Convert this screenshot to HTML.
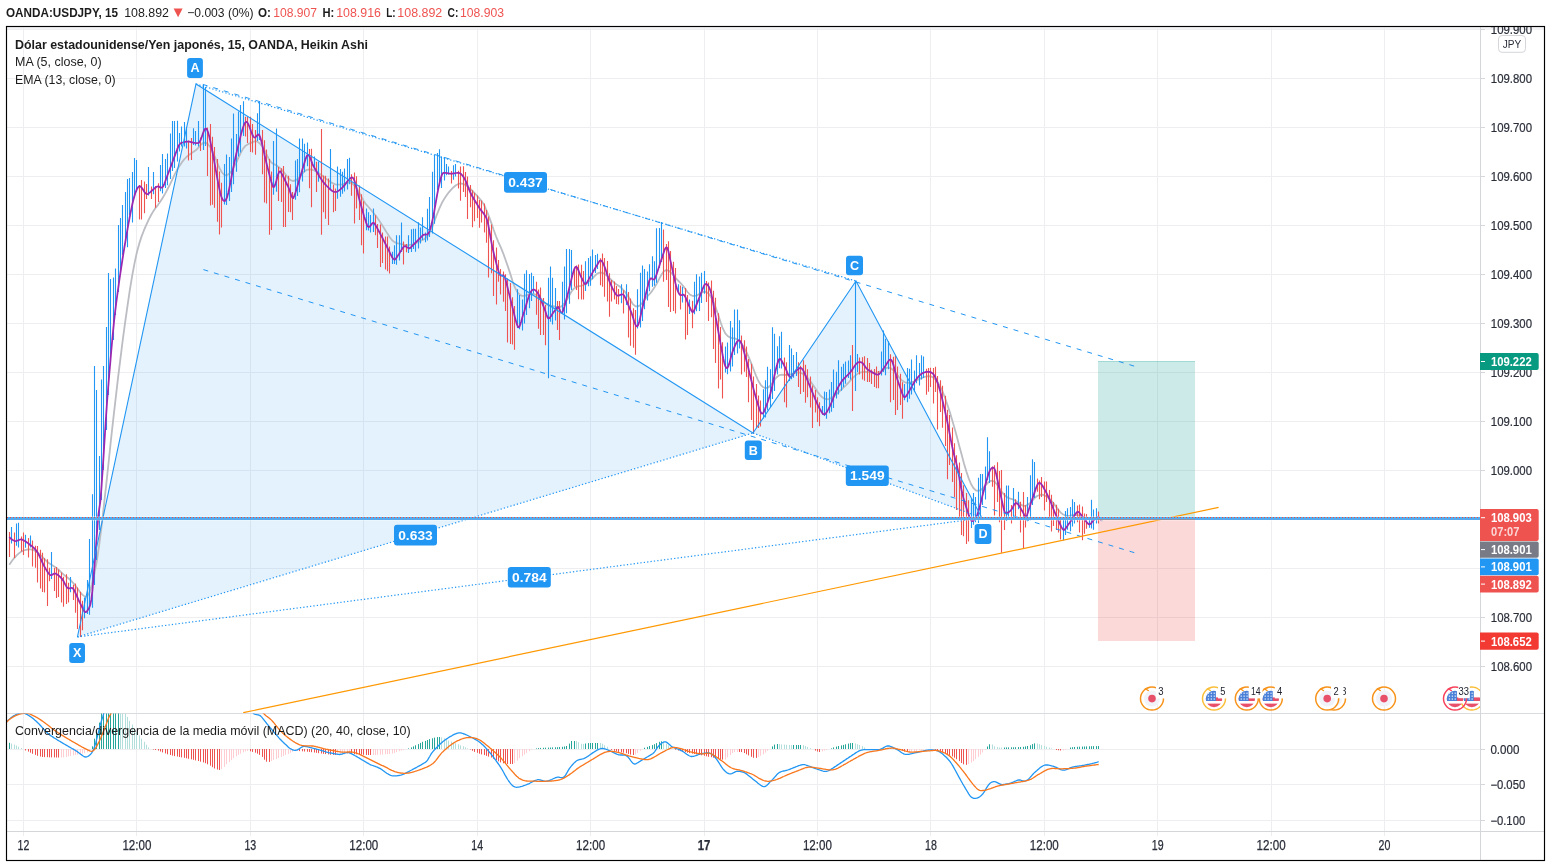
<!DOCTYPE html>
<html lang="es"><head><meta charset="utf-8"><title>OANDA:USDJPY</title>
<style>
html,body{margin:0;padding:0;background:#fff;}
body{width:1551px;height:866px;overflow:hidden;font-family:"Liberation Sans",sans-serif;}
svg{display:block;}
text{font-family:"Liberation Sans",sans-serif;}
.ax{font-size:12px;fill:#2a2e39;stroke:#2a2e39;stroke-width:0.2px;}
.axb{font-size:12.2px;fill:#fff;font-weight:bold;}
.lbl{font-size:13.6px;fill:#fff;font-weight:bold;text-anchor:middle;}
.tm{font-size:13.8px;fill:#2a2e39;stroke:#2a2e39;stroke-width:0.25px;}
.hd{font-size:12.4px;fill:#1c1c1c;}
.lg{font-size:12.4px;fill:#1c1c1c;}
</style></head><body>
<svg width="1551" height="866" viewBox="0 0 1551 866">
<rect width="1551" height="866" fill="#fff"/>
<defs>
<clipPath id="main"><rect x="7" y="27" width="1473" height="686"/></clipPath>
<clipPath id="macd"><rect x="7" y="713.5" width="1473" height="117"/></clipPath>
<clipPath id="axis"><rect x="1480" y="27" width="64" height="804"/></clipPath>
<clipPath id="frame"><rect x="7" y="27" width="1537" height="833"/></clipPath>
</defs>

<g class="hd">
<text x="6" y="16.8" textLength="112.0" lengthAdjust="spacingAndGlyphs" font-weight="bold">OANDA:USDJPY, 15</text>
<text x="124.2" y="16.8" textLength="44.8" lengthAdjust="spacingAndGlyphs">108.892</text>
<path d="M173.6 8.6h9l-4.5 8.6z" fill="#ef5350"/>
<text x="187.2" y="16.8" textLength="66.4" lengthAdjust="spacingAndGlyphs">−0.003 (0%)</text>
<text x="258" y="16.8" textLength="12.9" lengthAdjust="spacingAndGlyphs" font-weight="bold">O:</text>
<text x="273.2" y="16.8" textLength="43.8" lengthAdjust="spacingAndGlyphs" fill="#ef5350">108.907</text>
<text x="322.5" y="16.8" textLength="11.8" lengthAdjust="spacingAndGlyphs" font-weight="bold">H:</text>
<text x="336.2" y="16.8" textLength="44.8" lengthAdjust="spacingAndGlyphs" fill="#ef5350">108.916</text>
<text x="386.2" y="16.8" textLength="9.4" lengthAdjust="spacingAndGlyphs" font-weight="bold">L:</text>
<text x="397.3" y="16.8" textLength="45.0" lengthAdjust="spacingAndGlyphs" fill="#ef5350">108.892</text>
<text x="447.5" y="16.8" textLength="10.8" lengthAdjust="spacingAndGlyphs" font-weight="bold">C:</text>
<text x="460" y="16.8" textLength="44.0" lengthAdjust="spacingAndGlyphs" fill="#ef5350">108.903</text>
</g>
<rect x="7" y="27" width="1537" height="3" fill="#f3f3f5"/>
<path d="M7 29.5H1480M7 78.5H1480M7 127.5H1480M7 176.5H1480M7 225.5H1480M7 274.5H1480M7 323.5H1480M7 372.5H1480M7 421.5H1480M7 470.5H1480M7 519.5H1480M7 568.5H1480M7 617.5H1480M7 666.5H1480M7 749.5H1480M7 784.5H1480M7 820.5H1480M23.5 27V836M136.5 27V836M250.5 27V836M363.5 27V836M477.5 27V836M590.5 27V836M704.5 27V836M817.5 27V836M930.5 27V836M1044.5 27V836M1157.5 27V836M1271.5 27V836M1384.5 27V836" stroke="#eeeef0" stroke-width="1" fill="none"/>
<g clip-path="url(#main)">
<path d="M77.4 637L196 84L753 433Z" fill="rgba(33,150,243,0.12)"/>
<path d="M753 433L856 281L982 518Z" fill="rgba(33,150,243,0.12)"/>
<rect x="1098" y="361" width="97" height="157.5" fill="rgba(38,166,154,0.235)"/>
<rect x="1098" y="361" width="97" height="1" fill="rgba(38,166,154,0.25)"/>
<rect x="1098" y="518.5" width="97" height="122.5" fill="rgba(239,83,80,0.22)"/>
<path d="M9.3 564.7L11.7 561.3L14.0 558.3L16.4 555.6L18.8 553.4L21.1 551.7L23.5 550.5L25.9 549.8L28.2 549.4L30.6 549.4L33.0 549.8L35.3 550.9L37.7 552.6L40.0 554.6L42.4 557.0L44.8 559.5L47.1 561.7L49.5 563.4L51.9 564.9L54.2 566.5L56.6 568.1L58.9 570.0L61.3 572.3L63.7 574.6L66.0 576.5L68.4 578.2L70.8 580.3L73.1 582.9L75.5 585.8L77.8 589.0L80.2 592.3L82.6 594.9L84.9 596.6L87.3 596.3L89.7 592.2L92.0 584.2L94.4 573.6L96.8 561.3L99.1 545.6L101.5 526.9L103.8 506.4L106.2 484.8L108.6 462.5L110.9 440.4L113.3 418.9L115.7 398.1L118.0 378.1L120.4 358.8L122.7 340.3L125.1 322.7L127.5 305.9L129.8 290.1L132.2 275.7L134.6 262.9L136.9 252.2L139.3 243.4L141.6 236.4L144.0 230.2L146.4 224.7L148.7 219.6L151.1 215.0L153.5 210.9L155.8 207.6L158.2 204.6L160.5 201.3L162.9 197.5L165.3 193.4L167.6 189.0L170.0 184.3L172.4 179.3L174.7 174.4L177.1 169.8L179.5 165.9L181.8 162.4L184.2 159.4L186.5 157.0L188.9 154.9L191.3 153.2L193.6 151.8L196.0 150.1L198.4 147.6L200.7 144.9L203.1 143.0L205.4 142.6L207.8 144.0L210.2 147.0L212.5 151.4L214.9 156.9L217.3 162.8L219.6 168.3L222.0 172.5L224.3 175.0L226.7 175.3L229.1 173.9L231.4 171.2L233.8 167.4L236.2 162.8L238.5 157.6L240.9 152.6L243.3 148.4L245.6 145.7L248.0 144.2L250.3 143.2L252.7 142.1L255.1 141.2L257.4 141.6L259.8 143.5L262.2 146.5L264.5 150.5L266.9 155.1L269.2 159.6L271.6 162.7L274.0 164.1L276.3 165.3L278.7 167.0L281.1 169.1L283.4 171.6L285.8 174.7L288.1 178.0L290.5 180.2L292.9 181.0L295.2 180.5L297.6 179.0L300.0 176.6L302.3 173.6L304.7 171.1L307.1 169.8L309.4 169.4L311.8 169.7L314.1 170.5L316.5 171.8L318.9 173.3L321.2 175.0L323.6 176.8L326.0 178.6L328.3 180.4L330.7 182.1L333.0 183.4L335.4 184.3L337.8 184.7L340.1 184.7L342.5 184.3L344.9 183.5L347.2 182.7L349.6 182.3L351.9 183.2L354.3 185.4L356.7 188.4L359.0 192.2L361.4 196.6L363.8 200.9L366.1 204.4L368.5 207.0L370.8 209.6L373.2 212.5L375.6 215.5L377.9 218.8L380.3 222.3L382.7 225.9L385.0 229.7L387.4 233.6L389.8 237.3L392.1 240.2L394.5 242.1L396.8 243.2L399.2 243.7L401.6 244.1L403.9 244.7L406.3 245.1L408.7 245.0L411.0 244.7L413.4 244.0L415.7 243.1L418.1 242.0L420.5 240.9L422.8 240.0L425.2 238.5L427.6 236.0L429.9 232.2L432.3 227.0L434.6 220.8L437.0 214.3L439.4 208.4L441.7 203.3L444.1 199.1L446.5 195.5L448.8 192.3L451.2 189.6L453.6 187.2L455.9 185.2L458.3 184.0L460.6 183.4L463.0 183.8L465.4 185.0L467.7 186.6L470.1 188.6L472.5 190.9L474.8 193.3L477.2 195.9L479.5 198.5L481.9 201.4L484.3 205.3L486.6 210.5L489.0 216.6L491.4 223.1L493.7 230.0L496.1 236.5L498.4 242.1L500.8 247.4L503.2 253.3L505.5 259.8L507.9 266.6L510.3 273.9L512.6 281.2L515.0 287.6L517.3 292.0L519.7 294.7L522.1 295.9L524.4 295.8L526.8 295.1L529.2 294.3L531.5 293.9L533.9 294.0L536.3 294.8L538.6 296.4L541.0 298.7L543.3 301.5L545.7 303.7L548.1 305.1L550.4 305.8L552.8 306.0L555.2 306.6L557.5 307.5L559.9 307.2L562.2 305.8L564.6 303.2L567.0 299.7L569.3 295.4L571.7 291.3L574.1 288.4L576.4 286.8L578.8 286.1L581.1 285.8L583.5 285.0L585.9 283.7L588.2 282.1L590.6 280.1L593.0 277.8L595.3 275.3L597.7 273.4L600.1 272.5L602.4 272.8L604.8 274.0L607.1 275.9L609.5 278.1L611.9 280.5L614.2 282.7L616.6 284.4L619.0 285.9L621.3 287.8L623.7 290.3L626.0 293.3L628.4 296.8L630.8 300.8L633.1 304.4L635.5 306.3L637.9 306.4L640.2 305.2L642.6 302.7L644.9 299.4L647.3 296.5L649.7 294.0L652.0 291.1L654.4 287.6L656.8 283.6L659.1 279.1L661.5 274.6L663.9 271.3L666.2 270.1L668.6 270.6L670.9 272.5L673.3 275.2L675.7 278.1L678.0 280.5L680.4 282.8L682.8 285.5L685.1 288.6L687.5 292.0L689.8 294.5L692.2 295.8L694.6 296.0L696.9 295.4L699.3 294.0L701.7 292.6L704.0 291.7L706.4 291.9L708.7 293.7L711.1 297.2L713.5 301.9L715.8 307.9L718.2 314.8L720.6 322.2L722.9 328.7L725.3 333.3L727.6 336.0L730.0 337.5L732.4 338.1L734.7 338.4L737.1 339.3L739.5 341.1L741.8 344.0L744.2 347.8L746.6 352.4L748.9 357.7L751.3 363.4L753.6 369.5L756.0 375.6L758.4 381.0L760.7 384.8L763.1 387.2L765.5 388.2L767.8 387.7L770.2 385.7L772.5 382.6L774.9 379.2L777.3 376.7L779.6 375.1L782.0 374.6L784.4 374.8L786.7 375.0L789.1 374.8L791.4 374.2L793.8 373.4L796.2 372.6L798.5 372.3L800.9 372.8L803.3 374.1L805.6 376.0L808.0 378.4L810.4 381.3L812.7 384.6L815.1 388.0L817.4 391.6L819.8 394.8L822.2 397.3L824.5 398.7L826.9 399.3L829.3 398.8L831.6 397.7L834.0 396.0L836.3 394.1L838.7 392.0L841.1 389.8L843.4 387.6L845.8 385.4L848.2 383.0L850.5 380.4L852.9 377.9L855.2 375.6L857.6 373.8L860.0 372.7L862.3 372.2L864.7 371.9L867.1 372.0L869.4 372.2L871.8 372.5L874.1 372.8L876.5 372.6L878.9 372.0L881.2 371.0L883.6 369.6L886.0 368.2L888.3 367.5L890.7 368.3L893.1 370.0L895.4 372.5L897.8 375.6L900.1 378.7L902.5 380.9L904.9 382.3L907.2 382.9L909.6 382.7L912.0 382.2L914.3 381.3L916.7 380.2L919.0 379.2L921.4 378.1L923.8 377.2L926.1 376.5L928.5 376.2L930.9 376.4L933.2 377.5L935.6 379.5L937.9 382.6L940.3 386.7L942.7 391.7L945.0 397.8L947.4 404.7L949.8 412.1L952.1 419.7L954.5 427.9L956.9 436.8L959.2 445.8L961.6 454.6L963.9 463.2L966.3 471.3L968.7 478.4L971.0 484.0L973.4 488.0L975.8 490.3L978.1 490.9L980.5 490.1L982.8 488.3L985.2 485.7L987.6 483.1L989.9 481.1L992.3 480.7L994.7 481.8L997.0 484.4L999.4 488.1L1001.7 491.7L1004.1 494.6L1006.5 496.8L1008.8 498.1L1011.2 498.8L1013.6 499.7L1015.9 500.9L1018.3 502.5L1020.7 504.6L1023.0 505.8L1025.4 505.8L1027.7 504.8L1030.1 502.9L1032.5 500.4L1034.8 497.8L1037.2 496.0L1039.6 495.0L1041.9 494.7L1044.3 495.2L1046.6 496.4L1049.0 498.3L1051.4 500.8L1053.7 503.6L1056.1 506.8L1058.5 510.1L1060.8 512.7L1063.2 514.5L1065.5 515.5L1067.9 515.9L1070.3 515.7L1072.6 515.2L1075.0 514.9L1077.4 515.1L1079.7 515.7L1082.1 516.6L1084.4 517.7L1086.8 518.5L1089.2 518.7L1091.5 518.6L1093.9 518.4L1096.3 518.2L1098.6 518.0L1102.6 521.0" stroke="#bbbdc3" stroke-width="1.8" fill="none" stroke-linejoin="round"/>
<path d="M11.5 527.0V543.6M16.5 523.5V545.7M18.5 522.7V547.4M25.5 534.7V547.8M30.5 535.4V547.6M51.5 552.0V579.0M70.5 577.0V592.3M84.5 597.6V618.3M87.5 580.0V614.1M89.5 538.9V614.8M92.5 494.3V607.7M94.5 366.0V585.0M96.5 390.0V560.0M99.5 456.0V530.0M101.5 379.6V500.0M103.5 366.0V470.0M106.5 327.0V430.0M108.5 273.0V395.0M110.5 279.0V365.0M113.5 277.5V340.0M115.5 268.5V315.0M118.5 225.0V292.0M120.5 218.0V272.0M122.5 205.0V255.0M125.5 192.0V240.0M127.5 179.0V247.2M129.5 178.0V215.0M132.5 172.0V222.5M134.5 158.0V198.0M136.5 160.0V192.0M148.5 167.0V195.4M153.5 172.0V194.3M160.5 165.0V191.3M162.5 154.0V193.5M165.5 159.0V187.9M167.5 153.5V185.2M170.5 133.5V178.9M172.5 121.0V171.1M174.5 121.0V168.1M177.5 120.7V161.4M179.5 132.9V151.6M181.5 126.4V146.4M184.5 122.0V146.4M186.5 127.0V148.5M193.5 128.2V144.9M195.5 130.9V145.5M198.5 121.0V146.6M203.5 84.6V150.0M205.5 87.0V146.0M224.5 164.0V204.5M226.5 154.6V205.1M229.5 157.0V201.0M231.5 138.5V192.0M233.5 113.5V184.3M236.5 134.0V171.7M238.5 111.5V156.4M240.5 105.0V152.5M243.5 101.3V136.0M257.5 113.3V140.9M259.5 101.8V140.0M273.5 141.0V194.7M276.5 128.5V191.8M295.5 160.5V199.8M297.5 159.0V195.9M299.5 138.6V192.3M302.5 138.6V181.4M304.5 143.7V172.3M307.5 142.6V166.3M314.5 156.4V169.2M318.5 161.5V181.8M330.5 149.0V190.0M337.5 166.6V198.7M340.5 169.0V196.7M342.5 171.7V193.8M344.5 168.4V191.5M347.5 159.0V189.6M349.5 157.7V184.2M366.5 208.5V230.3M368.5 212.3V230.5M370.5 214.9V232.5M373.5 208.5V232.0M392.5 251.7V263.9M394.5 245.3V263.9M396.5 235.2V264.8M399.5 235.2V260.4M401.5 222.5V252.0M408.5 235.2V253.1M411.5 229.3V252.1M413.5 228.8V249.1M415.5 228.8V251.7M418.5 222.3V248.4M420.5 227.6V243.6M422.5 217.2V240.0M425.5 232.6V242.3M427.5 208.7V240.4M429.5 197.1V237.1M432.5 171.7V233.6M434.5 155.1V223.8M437.5 153.0V190.0M439.5 149.3V182.0M441.5 156.4V188.0M444.5 156.9V180.5M446.5 164.0V175.3M448.5 166.6V174.6M453.5 165.3V179.7M455.5 164.0V176.4M517.5 289.3V328.1M519.5 295.0V329.2M522.5 299.4V330.4M524.5 273.8V323.5M526.5 270.2V314.9M529.5 274.0V308.3M531.5 272.8V301.1M533.5 275.9V293.6M548.5 277.8V378.2M550.5 266.4V321.8M552.5 277.8V324.5M555.5 288.0V320.4M562.5 281.7V314.2M564.5 266.4V319.6M566.5 249.1V313.3M569.5 249.1V303.7M571.5 249.9V289.9M585.5 261.3V290.9M588.5 258.0V286.2M590.5 256.2V285.7M592.5 249.5V279.3M595.5 255.0V273.1M597.5 253.7V269.1M621.5 284.2V303.2M626.5 284.2V305.1M637.5 289.3V328.5M640.5 272.8V327.4M642.5 265.6V320.9M644.5 268.9V309.2M647.5 271.5V300.4M649.5 264.2V291.2M652.5 256.2V286.7M654.5 261.3V285.7M656.5 228.3V282.7M659.5 228.0V268.0M661.5 222.0V262.0M678.5 284.2V293.6M682.5 286.7V302.5M689.5 299.4V313.9M694.5 281.7V314.2M696.5 274.3V311.2M699.5 276.6V310.9M701.5 272.8V302.9M704.5 271.1V293.7M725.5 346.4V372.6M727.5 342.6V374.2M730.5 321.1V371.5M732.5 327.4V366.6M734.5 309.6V355.0M737.5 309.6V353.6M739.5 320.2V348.5M763.5 389.3V418.5M765.5 380.3V417.5M767.5 366.7V410.4M770.5 369.3V407.4M772.5 327.3V399.0M774.5 333.7V391.0M777.5 346.2V374.6M779.5 336.2V368.2M781.5 331.7V368.6M789.5 345.1V381.0M791.5 348.4V379.3M793.5 354.9V377.8M796.5 352.0V375.9M822.5 406.1V414.8M824.5 391.5V416.0M826.5 392.1V418.8M829.5 389.6V413.3M831.5 382.0V411.8M833.5 369.4V408.1M836.5 371.8V398.4M838.5 360.3V394.4M841.5 366.7V390.7M843.5 363.7V387.2M845.5 361.6V383.7M848.5 360.4V378.0M850.5 355.3V379.4M855.5 280.8V390.9M857.5 354.0V372.2M881.5 351.5V375.4M883.5 330.6V372.0M885.5 338.8V375.3M888.5 341.3V369.2M904.5 384.1V400.3M907.5 368.0V402.2M909.5 368.8V398.7M911.5 359.4V394.5M914.5 370.5V391.8M916.5 355.3V383.2M919.5 362.9V385.6M921.5 355.3V379.6M923.5 356.6V377.9M971.5 498.2V527.9M973.5 493.1V524.7M975.5 496.9V522.2M978.5 477.8V523.0M980.5 474.0V517.9M982.5 474.0V505.1M985.5 466.4V499.6M987.5 437.2V480.0M989.5 451.2V482.9M1006.5 485.5V520.9M1008.5 485.5V516.7M1013.5 488.0V517.8M1018.5 491.8V509.3M1027.5 496.9V521.3M1030.5 475.3V520.3M1032.5 459.3V505.0M1034.5 462.0V498.0M1063.5 520.0V540.6M1065.5 511.1V535.0M1067.5 508.3V529.8M1070.5 507.1V531.3M1072.5 499.2V526.5M1074.5 502.0V523.6M1089.5 517.2V527.7M1091.5 499.8V528.5M1093.5 509.6V529.8M1096.5 508.3V523.5" stroke="#2196f3" stroke-width="1.1" fill="none"/>
<path d="M9.5 532.1V557.0M14.5 532.5V558.0M21.5 536.4V551.6M23.5 532.6V555.0M28.5 537.9V557.4M32.5 540.6V566.6M35.5 545.7V567.7M37.5 545.9V582.5M40.5 549.8V588.5M42.5 552.8V592.0M44.5 558.3V592.5M47.5 559.3V605.9M49.5 567.7V581.3M54.5 567.9V590.9M56.5 566.9V598.0M58.5 569.6V597.0M61.5 572.5V602.4M63.5 576.7V606.7M66.5 574.3V604.0M68.5 582.7V602.4M73.5 584.8V600.0M75.5 583.5V612.8M77.5 587.5V629.0M80.5 591.8V637.0M82.5 600.8V630.2M139.5 184.9V219.4M141.5 180.1V219.4M144.5 181.5V213.3M146.5 184.0V199.0M151.5 186.6V199.0M155.5 186.0V207.8M158.5 183.3V202.0M188.5 140.5V160.5M191.5 138.0V160.0M200.5 137.5V151.0M207.5 127.4V176.0M210.5 124.0V205.5M212.5 136.7V204.8M214.5 146.9V207.8M217.5 159.1V221.7M219.5 171.4V234.4M221.5 182.7V227.4M245.5 116.8V136.6M247.5 116.8V143.0M250.5 116.7V152.0M252.5 123.9V152.4M255.5 130.0V154.7M262.5 130.0V174.2M264.5 140.3V202.5M266.5 149.5V203.4M269.5 159.0V234.7M271.5 171.6V230.1M278.5 167.1V200.9M281.5 168.2V202.1M283.5 166.0V227.0M285.5 175.3V227.0M288.5 175.7V211.9M290.5 184.3V212.3M292.5 192.0V219.9M309.5 149.0V188.2M311.5 148.7V207.2M316.5 161.7V192.0M321.5 129.0V234.7M323.5 175.6V212.3M325.5 175.7V218.7M328.5 178.6V225.0M333.5 184.8V212.3M335.5 188.6V211.0M351.5 174.3V195.8M354.5 172.5V223.5M356.5 176.3V208.5M359.5 185.5V219.9M361.5 194.2V245.3M363.5 201.3V253.5M375.5 215.2V235.2M377.5 223.9V247.9M380.5 224.5V267.0M382.5 232.6V263.1M385.5 236.6V269.5M387.5 236.4V271.3M389.5 246.4V273.4M403.5 241.5V264.4M406.5 244.0V252.3M451.5 170.9V183.5M458.5 170.8V188.6M460.5 166.6V200.7M463.5 166.3V192.0M465.5 172.1V197.1M467.5 176.5V219.0M470.5 184.9V207.2M472.5 190.3V227.3M474.5 192.8V221.2M477.5 195.4V218.0M479.5 200.0V227.8M481.5 200.6V222.5M484.5 203.5V232.6M486.5 210.1V242.8M488.5 216.5V277.6M491.5 224.6V273.3M493.5 240.2V296.0M496.5 247.4V304.5M498.5 260.0V281.7M500.5 269.0V294.4M503.5 271.4V301.8M505.5 274.3V310.9M507.5 278.6V342.6M510.5 283.1V343.9M512.5 297.2V344.5M514.5 305.9V349.8M536.5 281.7V314.7M538.5 289.5V328.7M540.5 287.5V335.0M543.5 298.1V335.0M545.5 304.9V345.2M557.5 301.0V329.9M559.5 300.9V340.1M574.5 267.5V286.7M576.5 265.4V290.0M578.5 264.5V299.2M581.5 264.7V299.4M583.5 271.0V299.4M600.5 258.3V285.3M602.5 253.6V286.7M604.5 258.1V296.8M607.5 261.0V301.5M609.5 273.2V316.7M611.5 279.9V301.5M614.5 281.5V299.4M616.5 286.1V304.0M618.5 289.1V304.5M623.5 290.3V313.4M628.5 292.0V337.5M630.5 298.5V345.8M633.5 308.3V347.7M635.5 310.1V354.8M663.5 229.6V281.7M666.5 244.1V280.0M668.5 241.3V307.1M670.5 250.9V312.1M673.5 261.7V310.9M675.5 268.1V313.4M680.5 285.6V309.4M685.5 287.9V339.6M687.5 295.0V335.0M692.5 300.7V328.2M706.5 280.9V302.0M708.5 282.4V320.9M711.5 280.4V317.2M713.5 290.8V349.0M715.5 297.7V363.0M718.5 313.3V388.4M720.5 327.1V379.4M722.5 342.2V398.5M741.5 335.5V374.4M744.5 340.3V371.8M746.5 346.5V376.9M748.5 359.0V402.3M751.5 363.8V420.1M753.5 376.5V434.0M756.5 384.0V428.0M758.5 395.6V427.9M760.5 400.4V426.5M784.5 357.5V402.3M786.5 362.2V407.4M798.5 362.3V387.0M800.5 365.8V394.0M803.5 360.3V392.1M805.5 364.8V402.8M807.5 369.2V397.2M810.5 376.6V407.4M812.5 385.5V428.1M815.5 390.0V412.5M817.5 397.3V422.1M819.5 402.2V426.3M852.5 345.0V411.0M859.5 357.5V374.5M862.5 357.3V379.5M864.5 356.3V380.7M867.5 358.1V382.0M869.5 363.1V382.0M871.5 369.6V384.1M874.5 369.0V386.9M876.5 366.5V388.3M878.5 371.0V388.3M890.5 354.3V402.3M893.5 356.7V400.1M895.5 355.8V415.0M897.5 366.6V410.0M900.5 373.7V404.9M902.5 382.3V418.8M926.5 368.8V394.7M928.5 367.9V391.8M930.5 367.7V387.0M933.5 367.9V403.6M935.5 366.8V392.1M937.5 375.9V429.5M940.5 380.2V412.0M942.5 385.8V427.7M945.5 395.7V446.0M947.5 409.8V479.2M949.5 414.9V465.0M952.5 427.5V482.0M954.5 443.3V497.0M956.5 455.3V510.0M959.5 462.4V520.0M961.5 473.1V535.0M963.5 485.3V536.3M966.5 492.9V543.9M968.5 500.2V541.4M992.5 466.5V486.7M994.5 465.2V515.4M997.5 462.2V502.0M999.5 471.1V522.3M1001.5 470.0V552.8M1004.5 492.9V529.9M1011.5 504.9V523.6M1015.5 499.3V516.7M1020.5 501.8V532.5M1023.5 492.0V549.0M1025.5 505.3V527.4M1037.5 478.6V491.8M1039.5 480.6V499.2M1041.5 477.0V496.9M1044.5 481.6V510.6M1046.5 481.5V502.0M1049.5 489.9V518.5M1051.5 494.7V531.6M1053.5 502.1V526.1M1056.5 504.8V529.9M1058.5 508.8V532.5M1060.5 518.3V539.6M1077.5 505.6V522.3M1079.5 504.4V532.5M1082.5 506.5V540.3M1084.5 513.5V533.7M1086.5 513.9V528.7M1098.5 511.4V523.6" stroke="#ef5350" stroke-width="1.1" fill="none"/>
<path d="M9.3 537.0L10.3 538.1L11.3 539.0L12.3 539.7L13.3 540.3L14.3 540.8L15.3 541.1L16.3 541.0L17.3 540.7L18.3 540.2L19.3 539.8L20.3 539.5L21.3 539.4L22.3 539.7L23.3 540.2L24.3 540.8L25.3 541.3L26.3 542.0L27.3 542.7L28.3 543.4L29.3 544.2L30.3 545.0L31.3 545.7L32.3 546.6L33.3 547.4L34.3 548.4L35.3 549.4L36.3 550.7L37.3 552.1L38.3 553.8L39.3 555.8L40.3 557.9L41.3 560.1L42.3 562.3L43.3 564.4L44.3 566.3L45.3 568.1L46.3 569.9L47.3 571.5L48.3 573.0L49.3 574.3L50.3 575.2L51.3 575.2L52.3 574.7L53.3 574.0L54.3 573.5L55.3 573.5L56.3 574.0L57.3 574.6L58.3 575.3L59.3 576.1L60.3 577.0L61.3 578.1L62.3 579.2L63.3 580.7L64.3 582.6L65.3 584.6L66.3 586.4L67.3 587.8L68.3 588.3L69.3 588.3L70.3 588.1L71.3 587.8L72.3 588.0L73.3 588.8L74.3 590.5L75.3 592.6L76.3 594.8L77.3 597.1L78.3 599.4L79.3 601.6L80.3 603.7L81.3 605.7L82.3 607.6L83.3 609.5L84.3 611.2L85.3 612.2L86.3 612.0L87.3 610.8L88.3 609.2L89.3 607.4L90.3 604.7L91.3 599.9L92.3 591.7L93.3 580.5L94.3 568.3L95.3 555.5L96.3 542.4L97.3 528.6L98.3 515.6L99.3 508.4L100.3 501.9L101.3 489.6L102.3 475.4L103.3 460.0L104.3 444.1L105.3 428.2L106.3 412.8L107.3 398.7L108.3 386.1L109.3 374.0L110.3 362.1L111.3 350.5L112.3 339.3L113.3 328.8L114.3 319.2L115.3 310.4L116.3 302.5L117.3 294.9L118.3 287.6L119.3 280.5L120.3 273.6L121.3 267.0L122.3 260.5L123.3 254.2L124.3 248.0L125.3 242.0L126.3 236.1L127.3 230.3L128.3 224.7L129.3 219.3L130.3 214.0L131.3 209.1L132.3 204.5L133.3 200.3L134.3 196.5L135.3 193.2L136.3 190.5L137.3 188.4L138.3 186.9L139.3 186.2L140.3 186.4L141.3 187.2L142.3 188.6L143.3 190.1L144.3 191.7L145.3 193.0L146.3 194.0L147.3 194.2L148.3 193.7L149.3 192.9L150.3 192.1L151.3 191.2L152.3 190.3L153.3 189.4L154.3 188.6L155.3 187.8L156.3 187.0L157.3 186.5L158.3 186.4L159.3 186.9L160.3 187.4L161.3 187.7L162.3 187.4L163.3 186.2L164.3 183.8L165.3 181.2L166.3 178.5L167.3 175.8L168.3 173.2L169.3 170.5L170.3 167.8L171.3 165.1L172.3 162.5L173.3 159.8L174.3 157.1L175.3 154.4L176.3 151.7L177.3 149.1L178.3 146.5L179.3 144.7L180.3 143.5L181.3 142.9L182.3 142.5L183.3 142.4L184.3 142.2L185.3 141.8L186.3 141.6L187.3 141.5L188.3 141.6L189.3 141.7L190.3 141.8L191.3 142.1L192.3 142.3L193.3 142.6L194.3 142.8L195.3 143.0L196.3 143.1L197.3 143.1L198.3 143.0L199.3 142.5L200.3 140.8L201.3 138.2L202.3 135.3L203.3 132.4L204.3 130.1L205.3 128.6L206.3 128.6L207.3 130.2L208.3 133.0L209.3 136.8L210.3 141.3L211.3 146.2L212.3 151.1L213.3 156.2L214.3 161.5L215.3 167.1L216.3 172.8L217.3 178.3L218.3 183.6L219.3 188.6L220.3 193.0L221.3 196.5L222.3 199.0L223.3 200.5L224.3 201.1L225.3 200.6L226.3 199.1L227.3 196.5L228.3 192.8L229.3 188.2L230.3 183.3L231.3 178.2L232.3 173.0L233.3 167.9L234.3 162.9L235.3 158.2L236.3 153.8L237.3 149.6L238.3 145.4L239.3 141.3L240.3 137.3L241.3 133.4L242.3 129.8L243.3 126.7L244.3 124.2L245.3 122.4L246.3 121.8L247.3 122.4L248.3 124.1L249.3 126.5L250.3 129.2L251.3 132.0L252.3 134.5L253.3 136.5L254.3 137.5L255.3 137.3L256.3 136.3L257.3 135.2L258.3 134.5L259.3 135.1L260.3 137.4L261.3 141.0L262.3 145.0L263.3 149.4L264.3 153.8L265.3 158.2L266.3 162.5L267.3 166.5L268.3 170.4L269.3 174.3L270.3 178.1L271.3 181.7L272.3 185.0L273.3 187.2L274.3 186.7L275.3 184.4L276.3 181.0L277.3 177.2L278.3 173.8L279.3 171.6L280.3 171.2L281.3 172.9L282.3 174.8L283.3 176.8L284.3 178.9L285.3 180.9L286.3 183.0L287.3 185.0L288.3 186.9L289.3 189.5L290.3 192.6L291.3 195.7L292.3 197.7L293.3 198.0L294.3 195.9L295.3 193.1L296.3 190.0L297.3 186.7L298.3 183.2L299.3 179.8L300.3 176.4L301.3 173.2L302.3 169.8L303.3 166.5L304.3 163.2L305.3 160.0L306.3 157.1L307.3 155.1L308.3 154.8L309.3 156.0L310.3 158.1L311.3 160.8L312.3 163.6L313.3 165.9L314.3 167.6L315.3 169.3L316.3 171.0L317.3 172.8L318.3 174.5L319.3 176.2L320.3 177.8L321.3 179.3L322.3 180.8L323.3 182.1L324.3 183.3L325.3 184.4L326.3 185.5L327.3 186.5L328.3 187.5L329.3 188.5L330.3 189.4L331.3 190.3L332.3 191.0L333.3 191.5L334.3 191.9L335.3 192.0L336.3 191.9L337.3 191.5L338.3 190.9L339.3 190.2L340.3 189.4L341.3 188.5L342.3 187.6L343.3 186.6L344.3 185.4L345.3 184.1L346.3 182.8L347.3 181.5L348.3 180.3L349.3 179.3L350.3 178.3L351.3 177.6L352.3 177.5L353.3 178.2L354.3 180.3L355.3 183.5L356.3 187.3L357.3 191.4L358.3 195.5L359.3 199.3L360.3 202.9L361.3 206.5L362.3 210.1L363.3 213.6L364.3 217.0L365.3 220.1L366.3 223.1L367.3 225.8L368.3 227.0L369.3 226.9L370.3 225.9L371.3 224.6L372.3 223.3L373.3 222.7L374.3 223.2L375.3 224.8L376.3 226.6L377.3 228.4L378.3 230.2L379.3 232.0L380.3 233.9L381.3 235.8L382.3 237.7L383.3 239.7L384.3 241.7L385.3 243.7L386.3 245.7L387.3 247.7L388.3 249.7L389.3 251.7L390.3 253.7L391.3 255.7L392.3 257.5L393.3 258.9L394.3 259.6L395.3 259.3L396.3 258.1L397.3 256.5L398.3 254.9L399.3 253.5L400.3 251.9L401.3 250.3L402.3 248.6L403.3 247.2L404.3 246.3L405.3 246.1L406.3 246.7L407.3 247.4L408.3 248.1L409.3 248.4L410.3 247.9L411.3 246.9L412.3 245.9L413.3 244.9L414.3 243.9L415.3 242.9L416.3 241.9L417.3 240.9L418.3 239.9L419.3 238.9L420.3 237.9L421.3 236.9L422.3 235.9L423.3 234.9L424.3 234.5L425.3 234.5L426.3 234.6L427.3 234.4L428.3 233.5L429.3 231.6L430.3 228.7L431.3 225.0L432.3 220.9L433.3 216.4L434.3 211.2L435.3 205.4L436.3 199.5L437.3 193.8L438.3 188.8L439.3 184.3L440.3 180.0L441.3 176.4L442.3 173.9L443.3 172.9L444.3 172.8L445.3 172.9L446.3 173.0L447.3 173.2L448.3 173.4L449.3 173.6L450.3 173.7L451.3 173.7L452.3 173.6L453.3 173.4L454.3 173.3L455.3 173.1L456.3 173.0L457.3 172.9L458.3 172.9L459.3 173.0L460.3 173.5L461.3 174.3L462.3 175.3L463.3 176.7L464.3 178.3L465.3 180.1L466.3 182.4L467.3 184.9L468.3 187.6L469.3 190.2L470.3 192.5L471.3 194.5L472.3 196.3L473.3 198.0L474.3 199.7L475.3 201.3L476.3 203.0L477.3 204.6L478.3 206.3L479.3 207.9L480.3 209.3L481.3 210.6L482.3 211.8L483.3 213.1L484.3 214.5L485.3 216.1L486.3 217.9L487.3 220.8L488.3 225.0L489.3 230.3L490.3 236.0L491.3 241.7L492.3 246.9L493.3 251.3L494.3 255.5L495.3 259.5L496.3 263.4L497.3 267.2L498.3 270.6L499.3 273.7L500.3 275.3L501.3 275.6L502.3 275.4L503.3 275.4L504.3 276.3L505.3 278.8L506.3 282.6L507.3 286.5L508.3 290.6L509.3 294.6L510.3 298.6L511.3 302.6L512.3 306.6L513.3 310.6L514.3 314.7L515.3 318.6L516.3 322.2L517.3 325.3L518.3 327.3L519.3 326.8L520.3 324.5L521.3 321.2L522.3 317.5L523.3 314.3L524.3 311.3L525.3 307.9L526.3 304.5L527.3 301.1L528.3 297.9L529.3 295.1L530.3 292.8L531.3 291.1L532.3 290.0L533.3 289.5L534.3 289.6L535.3 290.3L536.3 291.2L537.3 292.4L538.3 294.0L539.3 296.0L540.3 298.4L541.3 300.9L542.3 303.4L543.3 305.9L544.3 308.4L545.3 311.0L546.3 314.2L547.3 317.0L548.3 318.5L549.3 318.2L550.3 317.1L551.3 315.7L552.3 314.1L553.3 312.6L554.3 311.3L555.3 310.0L556.3 308.6L557.3 307.3L558.3 307.0L559.3 308.7L560.3 311.1L561.3 312.9L562.3 312.7L563.3 310.1L564.3 306.9L565.3 303.4L566.3 299.7L567.3 295.8L568.3 292.0L569.3 288.0L570.3 283.9L571.3 279.8L572.3 275.8L573.3 272.1L574.3 269.1L575.3 267.1L576.3 266.7L577.3 267.9L578.3 270.0L579.3 272.5L580.3 275.1L581.3 277.3L582.3 279.2L583.3 281.4L584.3 283.3L585.3 284.2L586.3 283.5L587.3 281.9L588.3 280.2L589.3 278.4L590.3 276.6L591.3 274.8L592.3 273.1L593.3 271.4L594.3 269.7L595.3 268.0L596.3 266.3L597.3 264.7L598.3 263.0L599.3 261.4L600.3 260.4L601.3 260.6L602.3 261.8L603.3 263.7L604.3 266.0L605.3 268.6L606.3 271.7L607.3 274.9L608.3 278.1L609.3 281.0L610.3 283.4L611.3 285.7L612.3 287.9L613.3 289.9L614.3 291.7L615.3 293.4L616.3 294.8L617.3 295.6L618.3 295.7L619.3 295.4L620.3 294.9L621.3 294.5L622.3 294.3L623.3 294.7L624.3 295.8L625.3 297.8L626.3 300.1L627.3 302.6L628.3 305.0L629.3 307.5L630.3 310.0L631.3 312.4L632.3 315.2L633.3 318.5L634.3 321.7L635.3 324.4L636.3 326.1L637.3 326.4L638.3 324.7L639.3 321.5L640.3 317.3L641.3 312.7L642.3 308.2L643.3 304.3L644.3 300.2L645.3 296.2L646.3 292.2L647.3 288.2L648.3 284.3L649.3 280.6L650.3 278.7L651.3 278.4L652.3 278.9L653.3 279.5L654.3 279.4L655.3 277.7L656.3 275.0L657.3 272.1L658.3 269.0L659.3 265.9L660.3 262.8L661.3 259.9L662.3 257.0L663.3 253.8L664.3 250.7L665.3 248.4L666.3 247.3L667.3 248.0L668.3 251.0L669.3 255.3L670.3 260.1L671.3 264.5L672.3 269.1L673.3 273.7L674.3 278.3L675.3 282.6L676.3 286.6L677.3 289.7L678.3 292.2L679.3 294.1L680.3 295.2L681.3 295.2L682.3 294.8L683.3 294.6L684.3 295.2L685.3 296.9L686.3 299.2L687.3 301.6L688.3 304.1L689.3 306.4L690.3 308.4L691.3 310.6L692.3 312.1L693.3 311.9L694.3 309.9L695.3 307.6L696.3 305.2L697.3 302.6L698.3 300.1L699.3 297.6L700.3 295.0L701.3 292.5L702.3 289.9L703.3 287.4L704.3 285.2L705.3 284.2L706.3 284.0L707.3 284.6L708.3 285.8L709.3 287.6L710.3 290.2L711.3 293.8L712.3 298.4L713.3 303.9L714.3 309.4L715.3 314.9L716.3 320.4L717.3 325.9L718.3 331.4L719.3 336.8L720.3 342.3L721.3 347.8L722.3 353.2L723.3 358.5L724.3 362.9L725.3 366.2L726.3 368.0L727.3 368.1L728.3 366.4L729.3 363.4L730.3 359.7L731.3 355.9L732.3 352.5L733.3 349.9L734.3 347.4L735.3 345.0L736.3 342.9L737.3 341.3L738.3 340.4L739.3 340.4L740.3 341.4L741.3 343.2L742.3 345.8L743.3 349.2L744.3 352.8L745.3 356.4L746.3 360.2L747.3 364.0L748.3 368.0L749.3 372.1L750.3 376.2L751.3 380.3L752.3 384.3L753.3 388.3L754.3 392.0L755.3 395.5L756.3 398.9L757.3 402.3L758.3 405.6L759.3 408.8L760.3 411.5L761.3 413.2L762.3 413.7L763.3 412.8L764.3 410.9L765.3 408.4L766.3 405.7L767.3 403.0L768.3 400.1L769.3 397.1L770.3 393.8L771.3 390.1L772.3 385.8L773.3 381.0L774.3 376.2L775.3 371.7L776.3 367.7L777.3 363.9L778.3 360.9L779.3 359.0L780.3 358.9L781.3 360.3L782.3 362.0L783.3 363.9L784.3 365.8L785.3 367.8L786.3 370.1L787.3 372.6L788.3 374.8L789.3 376.4L790.3 377.0L791.3 376.6L792.3 375.4L793.3 373.9L794.3 372.5L795.3 371.5L796.3 370.6L797.3 369.8L798.3 369.0L799.3 368.3L800.3 367.9L801.3 368.1L802.3 369.1L803.3 370.6L804.3 372.6L805.3 374.9L806.3 377.4L807.3 379.9L808.3 382.4L809.3 384.9L810.3 387.3L811.3 389.7L812.3 392.1L813.3 394.5L814.3 396.9L815.3 399.3L816.3 401.6L817.3 404.0L818.3 406.1L819.3 408.0L820.3 409.8L821.3 411.5L822.3 413.1L823.3 414.1L824.3 414.4L825.3 413.9L826.3 412.7L827.3 411.2L828.3 409.4L829.3 407.4L830.3 405.3L831.3 403.0L832.3 400.5L833.3 398.0L834.3 395.5L835.3 393.1L836.3 390.8L837.3 388.8L838.3 386.9L839.3 385.2L840.3 383.5L841.3 382.0L842.3 380.6L843.3 379.4L844.3 378.3L845.3 377.3L846.3 376.3L847.3 375.4L848.3 374.4L849.3 373.4L850.3 372.2L851.3 370.9L852.3 369.4L853.3 367.9L854.3 366.4L855.3 365.0L856.3 363.8L857.3 362.9L858.3 362.3L859.3 362.0L860.3 362.0L861.3 362.3L862.3 362.9L863.3 363.9L864.3 365.3L865.3 366.8L866.3 368.2L867.3 369.2L868.3 369.9L869.3 370.6L870.3 371.2L871.3 371.8L872.3 372.3L873.3 372.9L874.3 373.4L875.3 374.0L876.3 374.5L877.3 374.7L878.3 374.6L879.3 374.0L880.3 373.0L881.3 371.7L882.3 370.3L883.3 368.8L884.3 367.4L885.3 365.9L886.3 364.4L887.3 362.8L888.3 361.3L889.3 360.0L890.3 359.5L891.3 360.0L892.3 361.7L893.3 364.6L894.3 368.3L895.3 372.3L896.3 376.0L897.3 379.2L898.3 382.2L899.3 385.1L900.3 388.0L901.3 390.8L902.3 393.6L903.3 396.0L904.3 397.3L905.3 396.9L906.3 395.8L907.3 394.3L908.3 392.6L909.3 390.9L910.3 389.1L911.3 387.3L912.3 385.5L913.3 383.8L914.3 382.1L915.3 380.6L916.3 379.2L917.3 377.9L918.3 376.8L919.3 375.7L920.3 374.8L921.3 374.0L922.3 373.3L923.3 372.8L924.3 372.5L925.3 372.2L926.3 371.9L927.3 371.8L928.3 371.7L929.3 371.8L930.3 372.1L931.3 372.6L932.3 373.2L933.3 374.1L934.3 375.5L935.3 377.3L936.3 379.5L937.3 382.1L938.3 385.0L939.3 388.2L940.3 391.7L941.3 395.4L942.3 399.5L943.3 403.7L944.3 408.1L945.3 412.5L946.3 417.1L947.3 421.8L948.3 426.6L949.3 431.8L950.3 437.0L951.3 442.3L952.3 447.2L953.3 451.8L954.3 455.7L955.3 459.4L956.3 463.1L957.3 467.2L958.3 472.0L959.3 477.7L960.3 483.7L961.3 489.1L962.3 493.5L963.3 497.4L964.3 500.9L965.3 504.3L966.3 507.5L967.3 510.6L968.3 513.7L969.3 516.4L970.3 518.8L971.3 520.6L972.3 521.2L973.3 520.8L974.3 519.7L975.3 518.3L976.3 516.6L977.3 514.6L978.3 511.9L979.3 508.4L980.3 504.5L981.3 500.5L982.3 496.4L983.3 492.5L984.3 488.7L985.3 485.1L986.3 481.5L987.3 478.0L988.3 474.6L989.3 471.8L990.3 469.8L991.3 468.5L992.3 467.7L993.3 467.6L994.3 468.5L995.3 470.7L996.3 474.6L997.3 479.2L998.3 483.9L999.3 488.6L1000.3 493.3L1001.3 498.0L1002.3 502.6L1003.3 507.1L1004.3 511.2L1005.3 513.1L1006.3 513.4L1007.3 512.9L1008.3 512.4L1009.3 511.7L1010.3 510.8L1011.3 509.8L1012.3 508.3L1013.3 506.3L1014.3 504.4L1015.3 503.3L1016.3 503.1L1017.3 503.7L1018.3 504.7L1019.3 506.1L1020.3 507.7L1021.3 509.5L1022.3 511.2L1023.3 512.9L1024.3 515.1L1025.3 516.9L1026.3 516.8L1027.3 514.2L1028.3 511.2L1029.3 508.1L1030.3 505.0L1031.3 502.0L1032.3 499.0L1033.3 496.1L1034.3 493.1L1035.3 490.1L1036.3 487.3L1037.3 485.0L1038.3 483.4L1039.3 482.8L1040.3 483.2L1041.3 484.2L1042.3 485.5L1043.3 487.2L1044.3 489.0L1045.3 490.8L1046.3 492.7L1047.3 494.6L1048.3 496.6L1049.3 498.8L1050.3 501.1L1051.3 503.6L1052.3 506.1L1053.3 508.7L1054.3 511.2L1055.3 513.6L1056.3 515.9L1057.3 518.2L1058.3 520.4L1059.3 522.6L1060.3 524.7L1061.3 526.9L1062.3 528.6L1063.3 529.8L1064.3 529.9L1065.3 528.9L1066.3 527.5L1067.3 526.1L1068.3 524.6L1069.3 523.2L1070.3 521.7L1071.3 520.2L1072.3 518.7L1073.3 517.2L1074.3 515.7L1075.3 514.2L1076.3 512.9L1077.3 511.9L1078.3 511.8L1079.3 512.7L1080.3 513.8L1081.3 515.1L1082.3 516.5L1083.3 517.8L1084.3 519.0L1085.3 520.4L1086.3 521.7L1087.3 523.0L1088.3 523.9L1089.3 524.4L1090.3 524.0L1091.3 523.1L1092.3 521.8L1093.3 520.6L1094.3 519.6L1095.3 518.9L1096.3 518.1L1097.3 517.5L1098.3 517.1L1099.3 517.5L1100.3 518.7L1101.3 520.3" stroke="#9c27b0" stroke-width="1.75" fill="none" stroke-linejoin="round"/>
<path d="M77.4 637L196 84L753 433L856 281L982 518" stroke="#2196f3" stroke-width="1.1" fill="none"/>
<path d="M77.4 637L753 433" stroke="#2196f3" stroke-width="1.2" stroke-dasharray="1.3 2.1" fill="none"/>
<path d="M196 84L856 281" stroke="#2196f3" stroke-width="1.2" stroke-dasharray="1.3 2.1" fill="none"/>
<path d="M753 433L982 518" stroke="#2196f3" stroke-width="1.2" stroke-dasharray="1.3 2.1" fill="none"/>
<path d="M77.4 637L982 518" stroke="#2196f3" stroke-width="1.2" stroke-dasharray="1.3 2.1" fill="none"/>
<path d="M202.8 84.4L1136.1 366.7M203.4 269.6L1136.1 553.2" stroke="#2196f3" stroke-width="1" stroke-dasharray="5 6" fill="none"/>
<path d="M243.2 712.7L1218.6 507.4" stroke="#ff9800" stroke-width="1.2" fill="none"/>
<g shape-rendering="crispEdges">
<rect x="7" y="516" width="1473" height="1" fill="#fff" fill-opacity="0.3"/><rect x="7" y="520" width="1473" height="1" fill="#fff" fill-opacity="0.3"/>
<rect x="7" y="517" width="1473" height="1" fill="#48b2fa"/><rect x="7" y="518" width="1473" height="2" fill="#57a9ec"/>
<rect x="1098" y="519" width="97" height="1" fill="#8a93a6"/>
<path d="M7 517.5H1480" stroke="#f0483f" stroke-width="1" stroke-dasharray="1 2" fill="none"/>
</g>
<rect x="69.2" y="643.0" width="15.8" height="20" rx="3" fill="#2196f3"/>
<text class="lbl" style="font-size:12.6px" x="77.1" y="657.4">X</text>
<rect x="187.1" y="58.1" width="15.8" height="19.8" rx="3" fill="#2196f3"/>
<text class="lbl" style="font-size:12.6px" x="195" y="72.4">A</text>
<rect x="744.8" y="440.6" width="17" height="19.5" rx="3" fill="#2196f3"/>
<text class="lbl" style="font-size:12.6px" x="753.3" y="454.7">B</text>
<rect x="846.0" y="255.8" width="17" height="19.5" rx="3" fill="#2196f3"/>
<text class="lbl" style="font-size:12.6px" x="854.5" y="269.9">C</text>
<rect x="974.6" y="524.0" width="16.8" height="20" rx="3" fill="#2196f3"/>
<text class="lbl" style="font-size:12.6px" x="983" y="538.4">D</text>
<rect x="394.0" y="524.8" width="43" height="20.6" rx="3" fill="#2196f3"/>
<text class="lbl" x="398.2" y="539.8" style="text-anchor:start" textLength="34.6" lengthAdjust="spacingAndGlyphs">0.633</text>
<rect x="504.0" y="172.1" width="43" height="20.6" rx="3" fill="#2196f3"/>
<text class="lbl" x="508.2" y="187.1" style="text-anchor:start" textLength="34.6" lengthAdjust="spacingAndGlyphs">0.437</text>
<rect x="845.8" y="465.4" width="43" height="20.6" rx="3" fill="#2196f3"/>
<text class="lbl" x="850.0" y="480.4" style="text-anchor:start" textLength="34.6" lengthAdjust="spacingAndGlyphs">1.549</text>
<rect x="507.8" y="567.0" width="43" height="20.6" rx="3" fill="#2196f3"/>
<text class="lbl" x="512.0" y="582.0" style="text-anchor:start" textLength="34.6" lengthAdjust="spacingAndGlyphs">0.784</text>
</g>
<text x="15" y="48.6" textLength="353.0" lengthAdjust="spacingAndGlyphs" class="lg" font-weight="bold">Dólar estadounidense/Yen japonés, 15, OANDA, Heikin Ashi</text>
<text x="15" y="66.1" textLength="86.6" lengthAdjust="spacingAndGlyphs" class="lg">MA (5, close, 0)</text>
<text x="15" y="83.6" textLength="100.7" lengthAdjust="spacingAndGlyphs" class="lg">EMA (13, close, 0)</text>
<path d="M7 713.5H1544" stroke="#d9dbe0" stroke-width="1" fill="none"/>
<g clip-path="url(#macd)">
<path d="M11.5 749.0V743.6M14.5 749.0V744.6M16.5 749.0V745.6M18.5 749.0V746.8M21.5 749.0V748.0M120.5 749.0V704.8M122.5 749.0V708.8M125.5 749.0V713.2M127.5 749.0V716.9M129.5 749.0V720.8M132.5 749.0V724.6M134.5 749.0V728.3M136.5 749.0V731.9M139.5 749.0V735.4M141.5 749.0V738.7M144.5 749.0V741.8M146.5 749.0V744.7M148.5 749.0V747.4M441.5 749.0V737.4M444.5 749.0V738.3M446.5 749.0V739.4M448.5 749.0V740.5M451.5 749.0V741.5M453.5 749.0V742.4M455.5 749.0V743.3M458.5 749.0V744.3M460.5 749.0V745.3M463.5 749.0V746.3M465.5 749.0V747.3M467.5 749.0V748.4M576.5 749.0V741.0M578.5 749.0V742.3M581.5 749.0V743.8M583.5 749.0V743.9M600.5 749.0V743.0M602.5 749.0V743.7M604.5 749.0V745.2M607.5 749.0V746.8M663.5 749.0V742.2M666.5 749.0V743.8M668.5 749.0V745.4M670.5 749.0V747.1M779.5 749.0V744.1M781.5 749.0V744.4M784.5 749.0V744.6M786.5 749.0V744.8M789.5 749.0V745.0M791.5 749.0V745.0M803.5 749.0V745.1M805.5 749.0V746.0M807.5 749.0V747.0M810.5 749.0V748.1M855.5 749.0V743.5M857.5 749.0V744.2M859.5 749.0V745.0M862.5 749.0V746.1M864.5 749.0V747.5M992.5 749.0V744.5M994.5 749.0V746.4M997.5 749.0V747.1M999.5 749.0V747.5M1001.5 749.0V747.5M1037.5 749.0V743.5M1039.5 749.0V744.2M1041.5 749.0V745.1M1044.5 749.0V745.9M1046.5 749.0V746.7M1049.5 749.0V747.6M1051.5 749.0V748.4" stroke="#b2dfdb" stroke-width="1" fill="none"/>
<path d="M9.5 749.0V742.8M92.5 749.0V746.3M94.5 749.0V738.7M96.5 749.0V731.2M99.5 749.0V722.6M101.5 749.0V712.4M103.5 749.0V708.5M106.5 749.0V707.1M108.5 749.0V706.0M110.5 749.0V705.2M113.5 749.0V704.6M115.5 749.0V704.2M118.5 749.0V704.0M408.5 749.0V748.4M411.5 749.0V747.4M413.5 749.0V746.4M415.5 749.0V745.3M418.5 749.0V744.1M420.5 749.0V742.9M422.5 749.0V741.8M425.5 749.0V740.9M427.5 749.0V740.0M429.5 749.0V739.1M432.5 749.0V738.3M434.5 749.0V737.6M437.5 749.0V737.1M439.5 749.0V737.0M536.5 749.0V748.4M538.5 749.0V748.1M540.5 749.0V747.9M543.5 749.0V747.8M545.5 749.0V747.7M548.5 749.0V747.6M550.5 749.0V747.5M552.5 749.0V747.4M555.5 749.0V747.3M557.5 749.0V747.2M559.5 749.0V747.0M562.5 749.0V746.8M564.5 749.0V746.5M566.5 749.0V746.0M569.5 749.0V743.6M571.5 749.0V741.0M574.5 749.0V741.0M585.5 749.0V743.5M588.5 749.0V743.1M590.5 749.0V743.0M592.5 749.0V743.0M595.5 749.0V743.0M597.5 749.0V743.0M644.5 749.0V747.7M647.5 749.0V746.9M649.5 749.0V746.0M652.5 749.0V745.1M654.5 749.0V744.2M656.5 749.0V743.1M659.5 749.0V741.8M661.5 749.0V741.3M772.5 749.0V746.4M774.5 749.0V744.6M777.5 749.0V744.0M793.5 749.0V745.0M796.5 749.0V745.0M798.5 749.0V745.0M800.5 749.0V745.0M831.5 749.0V748.4M833.5 749.0V747.4M836.5 749.0V746.6M838.5 749.0V746.0M841.5 749.0V745.4M843.5 749.0V744.9M845.5 749.0V744.3M848.5 749.0V743.6M850.5 749.0V743.1M852.5 749.0V743.0M881.5 749.0V748.5M883.5 749.0V748.5M885.5 749.0V748.5M888.5 749.0V748.5M890.5 749.0V748.5M893.5 749.0V748.5M987.5 749.0V746.5M989.5 749.0V744.3M1004.5 749.0V747.5M1006.5 749.0V747.4M1008.5 749.0V747.4M1011.5 749.0V747.3M1013.5 749.0V747.3M1015.5 749.0V747.2M1018.5 749.0V747.1M1020.5 749.0V747.0M1023.5 749.0V746.8M1025.5 749.0V746.4M1027.5 749.0V746.0M1030.5 749.0V745.3M1032.5 749.0V744.1M1034.5 749.0V743.4M1070.5 749.0V747.5M1072.5 749.0V747.2M1074.5 749.0V747.0M1077.5 749.0V746.8M1079.5 749.0V746.7M1082.5 749.0V746.6M1084.5 749.0V746.5M1086.5 749.0V746.4M1089.5 749.0V746.3M1091.5 749.0V746.2M1093.5 749.0V746.1M1096.5 749.0V746.1M1098.5 749.0V746.0" stroke="#26a69a" stroke-width="1" fill="none"/>
<path d="M61.5 749.0V757.5M63.5 749.0V757.3M66.5 749.0V756.9M68.5 749.0V756.4M70.5 749.0V755.9M73.5 749.0V755.4M75.5 749.0V754.9M77.5 749.0V754.5M80.5 749.0V754.1M82.5 749.0V753.7M84.5 749.0V753.1M87.5 749.0V752.3M89.5 749.0V750.8M221.5 749.0V769.2M224.5 749.0V766.9M226.5 749.0V764.2M229.5 749.0V762.1M231.5 749.0V760.1M233.5 749.0V758.2M236.5 749.0V756.4M238.5 749.0V754.8M240.5 749.0V753.6M243.5 749.0V752.4M245.5 749.0V751.4M247.5 749.0V751.0M271.5 749.0V761.1M273.5 749.0V759.9M276.5 749.0V758.9M278.5 749.0V757.9M281.5 749.0V756.9M283.5 749.0V755.9M285.5 749.0V754.9M288.5 749.0V753.9M290.5 749.0V752.8M292.5 749.0V751.7M295.5 749.0V751.1M297.5 749.0V751.0M337.5 749.0V754.9M340.5 749.0V754.7M342.5 749.0V754.5M344.5 749.0V754.3M347.5 749.0V754.1M349.5 749.0V754.0M373.5 749.0V755.0M375.5 749.0V754.9M377.5 749.0V754.8M380.5 749.0V754.7M382.5 749.0V754.6M385.5 749.0V754.4M387.5 749.0V754.2M389.5 749.0V754.0M392.5 749.0V753.6M394.5 749.0V752.9M396.5 749.0V752.1M399.5 749.0V751.2M401.5 749.0V750.6M403.5 749.0V749.9M514.5 749.0V763.1M517.5 749.0V760.7M519.5 749.0V758.2M522.5 749.0V756.3M524.5 749.0V754.5M526.5 749.0V752.8M529.5 749.0V751.2M531.5 749.0V749.6M635.5 749.0V754.6M637.5 749.0V752.9M640.5 749.0V750.8M725.5 749.0V759.5M727.5 749.0V757.4M730.5 749.0V755.0M732.5 749.0V753.1M734.5 749.0V752.0M737.5 749.0V752.0M758.5 749.0V757.0M760.5 749.0V755.7M763.5 749.0V754.4M765.5 749.0V752.7M767.5 749.0V750.9M822.5 749.0V751.5M824.5 749.0V750.5M826.5 749.0V749.8M909.5 749.0V751.9M911.5 749.0V751.7M914.5 749.0V751.3M916.5 749.0V750.9M919.5 749.0V750.5M921.5 749.0V750.1M923.5 749.0V749.7M968.5 749.0V764.0M971.5 749.0V762.6M973.5 749.0V761.1M975.5 749.0V759.1M978.5 749.0V756.8M980.5 749.0V754.6M982.5 749.0V752.4M985.5 749.0V749.9M1063.5 749.0V750.4M1065.5 749.0V749.6" stroke="#ffcdd2" stroke-width="1" fill="none"/>
<path d="M25.5 749.0V750.5M28.5 749.0V751.6M30.5 749.0V752.7M32.5 749.0V753.8M35.5 749.0V754.9M37.5 749.0V755.8M40.5 749.0V756.5M42.5 749.0V757.0M44.5 749.0V757.1M47.5 749.0V757.2M49.5 749.0V757.3M51.5 749.0V757.4M54.5 749.0V757.4M56.5 749.0V757.5M58.5 749.0V757.5M153.5 749.0V749.5M155.5 749.0V750.0M158.5 749.0V750.6M160.5 749.0V751.5M162.5 749.0V752.4M165.5 749.0V753.4M167.5 749.0V754.3M170.5 749.0V755.0M172.5 749.0V755.6M174.5 749.0V756.1M177.5 749.0V756.5M179.5 749.0V757.0M181.5 749.0V757.4M184.5 749.0V757.8M186.5 749.0V758.3M188.5 749.0V758.8M191.5 749.0V759.3M193.5 749.0V759.8M195.5 749.0V760.4M198.5 749.0V761.0M200.5 749.0V761.7M203.5 749.0V762.4M205.5 749.0V763.2M207.5 749.0V764.3M210.5 749.0V765.7M212.5 749.0V767.2M214.5 749.0V768.5M217.5 749.0V769.5M219.5 749.0V770.0M250.5 749.0V751.3M252.5 749.0V751.9M255.5 749.0V752.7M257.5 749.0V753.7M259.5 749.0V754.9M262.5 749.0V756.9M264.5 749.0V759.7M266.5 749.0V761.7M269.5 749.0V761.9M299.5 749.0V751.1M302.5 749.0V751.3M304.5 749.0V751.5M307.5 749.0V751.7M309.5 749.0V751.9M311.5 749.0V752.2M314.5 749.0V752.5M316.5 749.0V752.8M318.5 749.0V753.2M321.5 749.0V753.5M323.5 749.0V753.8M325.5 749.0V754.1M328.5 749.0V754.4M330.5 749.0V754.7M333.5 749.0V754.9M335.5 749.0V755.0M351.5 749.0V754.0M354.5 749.0V754.1M356.5 749.0V754.3M359.5 749.0V754.4M361.5 749.0V754.6M363.5 749.0V754.8M366.5 749.0V754.9M368.5 749.0V755.0M370.5 749.0V755.0M470.5 749.0V749.5M472.5 749.0V750.8M474.5 749.0V751.9M477.5 749.0V752.8M479.5 749.0V753.7M481.5 749.0V754.4M484.5 749.0V755.1M486.5 749.0V755.9M488.5 749.0V756.6M491.5 749.0V757.5M493.5 749.0V758.7M496.5 749.0V760.0M498.5 749.0V761.3M500.5 749.0V762.4M503.5 749.0V763.3M505.5 749.0V763.9M507.5 749.0V764.0M510.5 749.0V764.0M512.5 749.0V764.0M611.5 749.0V749.9M614.5 749.0V750.8M616.5 749.0V751.4M618.5 749.0V751.9M621.5 749.0V752.3M623.5 749.0V752.7M626.5 749.0V753.2M628.5 749.0V753.9M630.5 749.0V754.6M633.5 749.0V755.0M675.5 749.0V749.7M678.5 749.0V750.5M680.5 749.0V751.1M682.5 749.0V751.7M685.5 749.0V752.2M687.5 749.0V752.7M689.5 749.0V753.1M692.5 749.0V753.6M694.5 749.0V754.0M696.5 749.0V754.4M699.5 749.0V754.9M701.5 749.0V755.3M704.5 749.0V755.8M706.5 749.0V756.3M708.5 749.0V756.8M711.5 749.0V757.2M713.5 749.0V757.7M715.5 749.0V758.2M718.5 749.0V758.7M720.5 749.0V759.2M722.5 749.0V759.6M739.5 749.0V752.0M741.5 749.0V752.1M744.5 749.0V753.0M746.5 749.0V754.3M748.5 749.0V755.4M751.5 749.0V756.8M753.5 749.0V757.8M756.5 749.0V757.9M815.5 749.0V750.6M817.5 749.0V751.5M819.5 749.0V752.0M900.5 749.0V750.0M902.5 749.0V750.8M904.5 749.0V751.5M907.5 749.0V752.0M935.5 749.0V749.9M937.5 749.0V750.5M940.5 749.0V751.2M942.5 749.0V752.1M945.5 749.0V753.0M947.5 749.0V754.0M949.5 749.0V755.2M952.5 749.0V756.4M954.5 749.0V757.7M956.5 749.0V759.2M959.5 749.0V761.1M961.5 749.0V763.0M963.5 749.0V764.3M966.5 749.0V764.8M1056.5 749.0V750.0M1058.5 749.0V750.3M1060.5 749.0V750.5" stroke="#ef5350" stroke-width="1" fill="none"/>
<path d="M6.7 721.9L7.7 720.8L8.7 719.8L9.7 718.9L10.7 718.1L11.7 717.3L12.7 716.6L13.7 715.9L14.7 715.4L15.7 714.8L16.7 714.3L17.7 713.9L18.7 713.5L19.7 713.2L20.7 713.0L21.7 712.9L22.7 712.9L23.7 713.1L24.7 713.4L25.7 713.8L26.7 714.3L27.7 714.9L28.7 715.5L29.7 716.1L30.7 716.8L31.7 717.5L32.7 718.3L33.7 719.1L34.7 720.0L35.7 720.8L36.7 721.7L37.7 722.7L38.7 723.6L39.7 724.7L40.7 725.8L41.7 726.9L42.7 728.0L43.7 729.1L44.7 730.2L45.7 731.2L46.7 732.2L47.7 733.2L48.7 734.1L49.7 734.9L50.7 735.6L51.7 736.2L52.7 736.9L53.7 737.6L54.7 738.2L55.7 738.8L56.7 739.5L57.7 740.1L58.7 740.7L59.7 741.3L60.7 741.9L61.7 742.5L62.7 743.1L63.7 743.7L64.7 744.3L65.7 744.9L66.7 745.4L67.7 746.0L68.7 746.6L69.7 747.1L70.7 747.7L71.7 748.3L72.7 748.8L73.7 749.4L74.7 750.0L75.7 750.6L76.7 751.2L77.7 751.9L78.7 752.7L79.7 753.4L80.7 754.2L81.7 754.9L82.7 755.7L83.7 756.3L84.7 756.8L85.7 757.0L86.7 756.9L87.7 756.5L88.7 755.9L89.7 755.1L90.7 754.2L91.7 752.9L92.7 751.2L93.7 749.0L94.7 746.3L95.7 743.0L96.7 739.2L97.7 735.2L98.7 731.1L99.7 727.0L100.7 723.2L101.7 720.0L102.7 717.0L103.7 713.6L104.7 709.6L105.7 704.7L106.7 699.2L107.7 693.4L108.7 687.5L109.7 681.7L110.7 676.2L111.7 671.3L112.7 667.0L113.7 662.8L114.7 658.8L115.7 654.8L116.7 651.0L117.7 647.3L118.7 643.8L119.7 640.4L120.7 637.1L121.7 634.0L122.7 631.1L123.7 628.3L124.7 625.7L125.7 623.3L126.7 621.0L127.7 618.7L128.7 616.5L129.7 614.5L130.7 612.5L131.7 610.7L132.7 608.9L133.7 607.3L134.7 605.8L135.7 604.4L136.7 603.2L137.7 602.1L138.7 601.1L139.7 600.2L140.7 599.5L141.7 598.8L142.7 598.2L143.7 597.6L144.7 597.0L145.7 596.5L146.7 596.1L147.7 595.6L148.7 595.3L149.7 595.0L150.7 594.7L151.7 594.5L152.7 594.3L153.7 594.3L154.7 594.2L155.7 594.2L156.7 594.3L157.7 594.4L158.7 594.6L159.7 594.9L160.7 595.2L161.7 595.5L162.7 595.8L163.7 596.1L164.7 596.5L165.7 596.8L166.7 597.1L167.7 597.5L168.7 597.9L169.7 598.3L170.7 598.8L171.7 599.3L172.7 599.8L173.7 600.4L174.7 601.1L175.7 601.8L176.7 602.5L177.7 603.4L178.7 604.3L179.7 605.3L180.7 606.4L181.7 607.5L182.7 608.8L183.7 610.1L184.7 611.5L185.7 613.1L186.7 614.6L187.7 616.2L188.7 617.7L189.7 619.3L190.7 620.9L191.7 622.5L192.7 624.1L193.7 625.7L194.7 627.3L195.7 628.9L196.7 630.6L197.7 632.2L198.7 633.8L199.7 635.5L200.7 637.1L201.7 638.7L202.7 640.3L203.7 642.0L204.7 643.6L205.7 645.2L206.7 646.8L207.7 648.5L208.7 650.1L209.7 651.7L210.7 653.3L211.7 654.8L212.7 656.4L213.7 658.0L214.7 659.5L215.7 661.1L216.7 662.6L217.7 664.2L218.7 665.7L219.7 667.2L220.7 668.8L221.7 670.3L222.7 671.9L223.7 673.4L224.7 674.9L225.7 676.4L226.7 678.0L227.7 679.5L228.7 681.0L229.7 682.5L230.7 684.1L231.7 685.6L232.7 687.1L233.7 688.6L234.7 690.1L235.7 691.6L236.7 693.1L237.7 694.6L238.7 696.1L239.7 697.6L240.7 699.0L241.7 700.4L242.7 701.8L243.7 703.1L244.7 704.3L245.7 705.5L246.7 706.6L247.7 707.7L248.7 708.8L249.7 709.8L250.7 710.8L251.7 711.8L252.7 712.7L253.7 713.6L254.7 714.1L255.7 714.4L256.7 714.6L257.7 714.8L258.7 715.0L259.7 715.4L260.7 716.1L261.7 717.1L262.7 718.3L263.7 719.6L264.7 720.9L265.7 722.2L266.7 723.5L267.7 724.7L268.7 725.9L269.7 727.1L270.7 728.3L271.7 729.4L272.7 730.6L273.7 731.8L274.7 733.0L275.7 734.1L276.7 735.3L277.7 736.4L278.7 737.6L279.7 738.7L280.7 739.7L281.7 740.8L282.7 741.8L283.7 742.7L284.7 743.7L285.7 744.6L286.7 745.5L287.7 746.5L288.7 747.4L289.7 748.2L290.7 748.8L291.7 749.4L292.7 749.8L293.7 750.2L294.7 750.4L295.7 750.4L296.7 750.2L297.7 749.7L298.7 749.2L299.7 748.5L300.7 747.8L301.7 747.2L302.7 746.7L303.7 746.4L304.7 746.4L305.7 746.5L306.7 746.7L307.7 746.9L308.7 747.1L309.7 747.4L310.7 747.6L311.7 747.8L312.7 748.1L313.7 748.3L314.7 748.6L315.7 748.9L316.7 749.2L317.7 749.4L318.7 749.7L319.7 750.0L320.7 750.3L321.7 750.6L322.7 750.9L323.7 751.2L324.7 751.5L325.7 751.8L326.7 752.1L327.7 752.3L328.7 752.6L329.7 752.8L330.7 753.0L331.7 753.2L332.7 753.4L333.7 753.6L334.7 753.8L335.7 753.9L336.7 754.1L337.7 754.3L338.7 754.4L339.7 754.5L340.7 754.4L341.7 754.1L342.7 753.8L343.7 753.5L344.7 753.2L345.7 752.9L346.7 752.6L347.7 752.5L348.7 752.6L349.7 752.8L350.7 753.3L351.7 753.8L352.7 754.4L353.7 754.9L354.7 755.5L355.7 756.0L356.7 756.6L357.7 757.2L358.7 757.8L359.7 758.4L360.7 759.0L361.7 759.6L362.7 760.2L363.7 760.8L364.7 761.4L365.7 762.0L366.7 762.6L367.7 763.2L368.7 763.7L369.7 764.3L370.7 764.8L371.7 765.2L372.7 765.5L373.7 765.9L374.7 766.2L375.7 766.6L376.7 766.9L377.7 767.3L378.7 767.8L379.7 768.3L380.7 768.9L381.7 769.5L382.7 770.3L383.7 771.0L384.7 771.8L385.7 772.5L386.7 773.2L387.7 773.8L388.7 774.4L389.7 774.9L390.7 775.3L391.7 775.6L392.7 775.8L393.7 775.9L394.7 775.9L395.7 775.9L396.7 775.8L397.7 775.6L398.7 775.5L399.7 775.3L400.7 775.1L401.7 774.8L402.7 774.4L403.7 774.1L404.7 773.6L405.7 773.1L406.7 772.6L407.7 772.1L408.7 771.6L409.7 771.0L410.7 770.5L411.7 770.0L412.7 769.4L413.7 768.9L414.7 768.3L415.7 767.8L416.7 767.3L417.7 766.7L418.7 766.2L419.7 765.6L420.7 765.1L421.7 764.5L422.7 763.9L423.7 763.3L424.7 762.7L425.7 762.1L426.7 761.2L427.7 759.9L428.7 758.2L429.7 756.5L430.7 754.7L431.7 753.1L432.7 751.9L433.7 750.7L434.7 749.6L435.7 748.5L436.7 747.5L437.7 746.5L438.7 745.4L439.7 744.5L440.7 743.6L441.7 742.7L442.7 741.8L443.7 741.0L444.7 740.3L445.7 739.5L446.7 738.9L447.7 738.2L448.7 737.5L449.7 736.9L450.7 736.3L451.7 735.8L452.7 735.2L453.7 734.7L454.7 734.2L455.7 733.8L456.7 733.4L457.7 733.1L458.7 732.9L459.7 732.9L460.7 732.9L461.7 733.2L462.7 733.4L463.7 733.8L464.7 734.2L465.7 734.6L466.7 735.0L467.7 735.5L468.7 736.0L469.7 736.5L470.7 737.0L471.7 737.5L472.7 738.0L473.7 738.5L474.7 739.1L475.7 739.6L476.7 740.2L477.7 740.8L478.7 741.5L479.7 742.2L480.7 743.0L481.7 743.9L482.7 744.8L483.7 745.8L484.7 746.8L485.7 747.9L486.7 749.0L487.7 750.1L488.7 751.3L489.7 752.5L490.7 753.7L491.7 754.9L492.7 756.2L493.7 757.5L494.7 758.8L495.7 760.2L496.7 761.6L497.7 763.0L498.7 764.4L499.7 765.8L500.7 767.3L501.7 769.0L502.7 770.7L503.7 772.5L504.7 774.4L505.7 776.2L506.7 777.9L507.7 779.5L508.7 781.0L509.7 782.4L510.7 783.6L511.7 784.7L512.7 785.7L513.7 786.4L514.7 786.9L515.7 787.2L516.7 787.3L517.7 787.2L518.7 787.1L519.7 786.9L520.7 786.6L521.7 786.4L522.7 786.1L523.7 785.7L524.7 785.4L525.7 785.0L526.7 784.6L527.7 784.2L528.7 783.8L529.7 783.3L530.7 782.7L531.7 782.2L532.7 781.7L533.7 781.2L534.7 780.7L535.7 780.3L536.7 780.0L537.7 779.7L538.7 779.7L539.7 779.8L540.7 780.0L541.7 780.3L542.7 780.7L543.7 780.9L544.7 781.2L545.7 781.3L546.7 781.2L547.7 781.0L548.7 780.7L549.7 780.3L550.7 779.9L551.7 779.5L552.7 779.0L553.7 778.5L554.7 778.1L555.7 777.6L556.7 777.3L557.7 777.1L558.7 777.1L559.7 777.4L560.7 777.6L561.7 777.7L562.7 777.6L563.7 777.2L564.7 776.3L565.7 774.9L566.7 773.2L567.7 771.4L568.7 769.7L569.7 768.1L570.7 766.9L571.7 765.7L572.7 764.5L573.7 763.4L574.7 762.4L575.7 761.5L576.7 760.8L577.7 760.2L578.7 759.8L579.7 759.5L580.7 759.3L581.7 759.1L582.7 758.9L583.7 758.6L584.7 758.2L585.7 757.7L586.7 757.0L587.7 756.4L588.7 755.7L589.7 755.0L590.7 754.3L591.7 753.6L592.7 752.9L593.7 752.2L594.7 751.6L595.7 751.0L596.7 750.4L597.7 749.8L598.7 749.4L599.7 749.0L600.7 748.7L601.7 748.5L602.7 748.5L603.7 748.7L604.7 748.9L605.7 749.2L606.7 749.5L607.7 749.9L608.7 750.3L609.7 750.7L610.7 751.1L611.7 751.6L612.7 752.2L613.7 752.7L614.7 753.2L615.7 753.7L616.7 754.2L617.7 754.5L618.7 754.8L619.7 754.9L620.7 755.0L621.7 755.0L622.7 755.0L623.7 755.1L624.7 755.2L625.7 755.4L626.7 755.9L627.7 756.8L628.7 757.9L629.7 759.2L630.7 760.6L631.7 761.9L632.7 763.0L633.7 763.7L634.7 764.1L635.7 763.9L636.7 763.3L637.7 762.7L638.7 762.1L639.7 761.5L640.7 760.9L641.7 760.3L642.7 759.7L643.7 759.1L644.7 758.5L645.7 757.9L646.7 757.3L647.7 756.7L648.7 756.1L649.7 755.5L650.7 754.9L651.7 754.3L652.7 753.7L653.7 752.8L654.7 751.6L655.7 750.1L656.7 748.7L657.7 747.2L658.7 745.9L659.7 744.9L660.7 744.0L661.7 743.1L662.7 742.5L663.7 742.0L664.7 741.8L665.7 741.9L666.7 742.4L667.7 743.1L668.7 743.9L669.7 744.8L670.7 745.7L671.7 746.5L672.7 747.0L673.7 747.5L674.7 747.9L675.7 748.3L676.7 748.7L677.7 749.0L678.7 749.4L679.7 749.8L680.7 750.3L681.7 750.8L682.7 751.4L683.7 752.0L684.7 752.8L685.7 753.5L686.7 754.3L687.7 754.9L688.7 755.5L689.7 756.0L690.7 756.3L691.7 756.5L692.7 756.4L693.7 756.3L694.7 756.0L695.7 755.7L696.7 755.3L697.7 754.9L698.7 754.5L699.7 754.1L700.7 753.9L701.7 753.7L702.7 753.5L703.7 753.4L704.7 753.2L705.7 753.1L706.7 753.0L707.7 753.0L708.7 753.0L709.7 753.1L710.7 753.5L711.7 754.1L712.7 754.9L713.7 755.9L714.7 757.0L715.7 758.2L716.7 759.4L717.7 760.9L718.7 762.4L719.7 764.0L720.7 765.6L721.7 767.2L722.7 768.6L723.7 769.7L724.7 770.8L725.7 771.8L726.7 772.6L727.7 773.2L728.7 773.7L729.7 773.9L730.7 773.9L731.7 773.6L732.7 773.2L733.7 772.7L734.7 772.1L735.7 771.6L736.7 771.3L737.7 771.2L738.7 771.3L739.7 771.4L740.7 771.6L741.7 771.8L742.7 772.0L743.7 772.4L744.7 772.8L745.7 773.4L746.7 774.1L747.7 774.9L748.7 775.7L749.7 776.5L750.7 777.3L751.7 778.1L752.7 778.9L753.7 779.7L754.7 780.5L755.7 781.3L756.7 782.1L757.7 783.0L758.7 783.8L759.7 784.5L760.7 785.3L761.7 785.9L762.7 786.4L763.7 786.7L764.7 786.7L765.7 786.2L766.7 785.5L767.7 784.6L768.7 783.5L769.7 782.4L770.7 781.4L771.7 780.4L772.7 779.4L773.7 778.3L774.7 777.1L775.7 776.0L776.7 774.8L777.7 773.8L778.7 773.0L779.7 772.3L780.7 771.8L781.7 771.5L782.7 771.2L783.7 771.0L784.7 770.8L785.7 770.5L786.7 770.3L787.7 770.0L788.7 769.7L789.7 769.3L790.7 768.9L791.7 768.5L792.7 768.1L793.7 767.7L794.7 767.3L795.7 766.9L796.7 766.5L797.7 766.1L798.7 765.7L799.7 765.4L800.7 765.0L801.7 764.8L802.7 764.6L803.7 764.6L804.7 764.7L805.7 765.0L806.7 765.3L807.7 765.7L808.7 766.0L809.7 766.4L810.7 766.8L811.7 767.2L812.7 767.6L813.7 767.9L814.7 768.3L815.7 768.6L816.7 769.0L817.7 769.3L818.7 769.6L819.7 770.0L820.7 770.3L821.7 770.6L822.7 771.0L823.7 771.3L824.7 771.4L825.7 771.4L826.7 771.3L827.7 771.0L828.7 770.6L829.7 770.1L830.7 769.6L831.7 768.9L832.7 768.3L833.7 767.6L834.7 766.9L835.7 766.3L836.7 765.6L837.7 764.9L838.7 764.2L839.7 763.6L840.7 762.9L841.7 762.2L842.7 761.6L843.7 760.9L844.7 760.2L845.7 759.6L846.7 758.9L847.7 758.3L848.7 757.6L849.7 756.9L850.7 756.3L851.7 755.6L852.7 754.9L853.7 754.3L854.7 753.6L855.7 752.9L856.7 752.3L857.7 751.7L858.7 751.1L859.7 750.7L860.7 750.3L861.7 750.0L862.7 749.8L863.7 749.7L864.7 749.7L865.7 749.7L866.7 749.7L867.7 749.7L868.7 749.7L869.7 749.7L870.7 749.7L871.7 749.7L872.7 749.7L873.7 749.7L874.7 749.7L875.7 749.7L876.7 749.7L877.7 749.7L878.7 749.7L879.7 749.6L880.7 749.2L881.7 748.8L882.7 748.2L883.7 747.6L884.7 747.0L885.7 746.5L886.7 746.1L887.7 745.9L888.7 746.0L889.7 746.2L890.7 746.5L891.7 746.9L892.7 747.4L893.7 747.9L894.7 748.4L895.7 748.9L896.7 749.4L897.7 749.9L898.7 750.5L899.7 751.2L900.7 752.0L901.7 752.7L902.7 753.3L903.7 753.9L904.7 754.2L905.7 754.4L906.7 754.4L907.7 754.4L908.7 754.3L909.7 754.1L910.7 753.9L911.7 753.7L912.7 753.4L913.7 753.2L914.7 752.9L915.7 752.7L916.7 752.5L917.7 752.3L918.7 752.0L919.7 751.8L920.7 751.5L921.7 751.3L922.7 751.1L923.7 750.8L924.7 750.6L925.7 750.4L926.7 750.2L927.7 750.1L928.7 750.0L929.7 749.9L930.7 749.9L931.7 750.0L932.7 750.0L933.7 750.1L934.7 750.2L935.7 750.4L936.7 750.6L937.7 750.9L938.7 751.4L939.7 751.9L940.7 752.6L941.7 753.3L942.7 754.1L943.7 755.0L944.7 755.9L945.7 756.8L946.7 757.8L947.7 758.8L948.7 760.0L949.7 761.2L950.7 762.5L951.7 764.0L952.7 765.7L953.7 767.4L954.7 769.2L955.7 771.0L956.7 772.9L957.7 774.7L958.7 776.6L959.7 778.4L960.7 780.2L961.7 782.0L962.7 783.8L963.7 785.5L964.7 787.2L965.7 788.9L966.7 790.5L967.7 792.2L968.7 793.8L969.7 795.3L970.7 796.5L971.7 797.4L972.7 797.9L973.7 798.3L974.7 798.4L975.7 798.3L976.7 798.2L977.7 797.8L978.7 797.4L979.7 796.7L980.7 795.9L981.7 795.0L982.7 794.0L983.7 792.7L984.7 791.2L985.7 789.4L986.7 787.7L987.7 786.1L988.7 784.7L989.7 783.6L990.7 782.8L991.7 782.2L992.7 781.8L993.7 781.6L994.7 781.6L995.7 781.9L996.7 782.3L997.7 782.8L998.7 783.3L999.7 783.8L1000.7 784.3L1001.7 784.5L1002.7 784.6L1003.7 784.5L1004.7 784.4L1005.7 784.2L1006.7 784.0L1007.7 783.8L1008.7 783.6L1009.7 783.3L1010.7 783.0L1011.7 782.7L1012.7 782.3L1013.7 781.9L1014.7 781.4L1015.7 781.0L1016.7 780.6L1017.7 780.2L1018.7 780.0L1019.7 780.0L1020.7 780.2L1021.7 780.5L1022.7 780.8L1023.7 781.0L1024.7 781.1L1025.7 780.9L1026.7 780.4L1027.7 779.7L1028.7 778.9L1029.7 777.9L1030.7 776.8L1031.7 775.6L1032.7 774.5L1033.7 773.4L1034.7 772.4L1035.7 771.5L1036.7 770.7L1037.7 769.8L1038.7 768.9L1039.7 768.1L1040.7 767.3L1041.7 766.6L1042.7 766.0L1043.7 765.5L1044.7 765.2L1045.7 765.0L1046.7 765.0L1047.7 765.0L1048.7 765.2L1049.7 765.4L1050.7 765.6L1051.7 765.9L1052.7 766.1L1053.7 766.4L1054.7 766.8L1055.7 767.2L1056.7 767.7L1057.7 768.2L1058.7 768.7L1059.7 769.2L1060.7 769.6L1061.7 769.9L1062.7 770.1L1063.7 770.2L1064.7 770.1L1065.7 769.9L1066.7 769.5L1067.7 769.1L1068.7 768.6L1069.7 768.1L1070.7 767.6L1071.7 767.3L1072.7 767.0L1073.7 766.9L1074.7 766.7L1075.7 766.5L1076.7 766.4L1077.7 766.2L1078.7 766.1L1079.7 765.9L1080.7 765.8L1081.7 765.6L1082.7 765.4L1083.7 765.3L1084.7 765.1L1085.7 764.9L1086.7 764.7L1087.7 764.5L1088.7 764.3L1089.7 764.1L1090.7 763.9L1091.7 763.7L1092.7 763.4L1093.7 763.2L1094.7 762.9L1095.7 762.6L1096.7 762.4L1097.7 762.0L1098.7 761.7" stroke="#2196f3" stroke-width="1.3" fill="none" stroke-linejoin="round"/>
<path d="M6.7 721.9L7.7 721.0L8.7 720.1L9.7 719.3L10.7 718.5L11.7 717.9L12.7 717.2L13.7 716.6L14.7 716.1L15.7 715.7L16.7 715.2L17.7 714.9L18.7 714.5L19.7 714.2L20.7 713.9L21.7 713.7L22.7 713.5L23.7 713.3L24.7 713.2L25.7 713.2L26.7 713.3L27.7 713.4L28.7 713.7L29.7 714.0L30.7 714.4L31.7 714.9L32.7 715.3L33.7 715.8L34.7 716.3L35.7 716.9L36.7 717.4L37.7 718.0L38.7 718.6L39.7 719.2L40.7 719.9L41.7 720.6L42.7 721.3L43.7 722.0L44.7 722.7L45.7 723.5L46.7 724.2L47.7 725.0L48.7 725.8L49.7 726.6L50.7 727.4L51.7 728.2L52.7 728.9L53.7 729.7L54.7 730.4L55.7 731.1L56.7 731.8L57.7 732.5L58.7 733.1L59.7 733.7L60.7 734.4L61.7 735.0L62.7 735.6L63.7 736.2L64.7 736.9L65.7 737.5L66.7 738.1L67.7 738.7L68.7 739.3L69.7 739.9L70.7 740.5L71.7 741.1L72.7 741.6L73.7 742.2L74.7 742.8L75.7 743.4L76.7 743.9L77.7 744.5L78.7 745.1L79.7 745.6L80.7 746.2L81.7 746.8L82.7 747.3L83.7 747.9L84.7 748.4L85.7 748.9L86.7 749.4L87.7 749.9L88.7 750.3L89.7 750.8L90.7 751.2L91.7 751.3L92.7 751.0L93.7 750.4L94.7 749.3L95.7 748.0L96.7 746.3L97.7 744.4L98.7 742.4L99.7 740.2L100.7 738.0L101.7 735.6L102.7 733.2L103.7 730.8L104.7 728.3L105.7 725.6L106.7 722.9L107.7 720.3L108.7 717.7L109.7 715.6L110.7 714.2L111.7 712.0L112.7 709.0L113.7 705.6L114.7 701.8L115.7 697.8L116.7 693.6L117.7 689.2L118.7 684.7L119.7 680.3L120.7 676.0L121.7 671.8L122.7 667.8L123.7 664.2L124.7 660.9L125.7 658.0L126.7 655.1L127.7 652.3L128.7 649.6L129.7 647.0L130.7 644.4L131.7 641.9L132.7 639.5L133.7 637.2L134.7 635.0L135.7 632.8L136.7 630.8L137.7 628.9L138.7 627.1L139.7 625.5L140.7 623.9L141.7 622.4L142.7 621.0L143.7 619.6L144.7 618.2L145.7 617.0L146.7 615.7L147.7 614.5L148.7 613.4L149.7 612.4L150.7 611.4L151.7 610.4L152.7 609.6L153.7 608.7L154.7 608.0L155.7 607.3L156.7 606.6L157.7 606.1L158.7 605.6L159.7 605.1L160.7 604.7L161.7 604.4L162.7 604.0L163.7 603.7L164.7 603.3L165.7 603.1L166.7 602.8L167.7 602.6L168.7 602.4L169.7 602.2L170.7 602.1L171.7 602.1L172.7 602.1L173.7 602.2L174.7 602.3L175.7 602.5L176.7 602.7L177.7 603.1L178.7 603.5L179.7 604.0L180.7 604.5L181.7 605.2L182.7 605.9L183.7 606.8L184.7 607.7L185.7 608.7L186.7 609.8L187.7 610.8L188.7 611.9L189.7 612.9L190.7 614.0L191.7 615.1L192.7 616.3L193.7 617.4L194.7 618.5L195.7 619.7L196.7 620.9L197.7 622.1L198.7 623.3L199.7 624.5L200.7 625.7L201.7 627.0L202.7 628.3L203.7 629.5L204.7 630.8L205.7 632.1L206.7 633.5L207.7 634.8L208.7 636.1L209.7 637.5L210.7 638.9L211.7 640.3L212.7 641.7L213.7 643.1L214.7 644.6L215.7 646.0L216.7 647.5L217.7 649.0L218.7 650.5L219.7 652.0L220.7 653.5L221.7 655.0L222.7 656.5L223.7 658.0L224.7 659.5L225.7 661.1L226.7 662.6L227.7 664.1L228.7 665.7L229.7 667.2L230.7 668.8L231.7 670.3L232.7 671.8L233.7 673.3L234.7 674.9L235.7 676.4L236.7 677.9L237.7 679.4L238.7 680.9L239.7 682.4L240.7 683.8L241.7 685.3L242.7 686.7L243.7 688.2L244.7 689.6L245.7 691.0L246.7 692.4L247.7 693.7L248.7 695.1L249.7 696.5L250.7 697.8L251.7 699.1L252.7 700.4L253.7 701.7L254.7 703.0L255.7 704.2L256.7 705.5L257.7 706.7L258.7 707.9L259.7 709.1L260.7 710.2L261.7 711.3L262.7 712.5L263.7 713.5L264.7 714.5L265.7 715.4L266.7 716.2L267.7 716.9L268.7 717.7L269.7 718.5L270.7 719.4L271.7 720.4L272.7 721.5L273.7 722.6L274.7 723.8L275.7 725.1L276.7 726.3L277.7 727.6L278.7 728.8L279.7 730.0L280.7 731.1L281.7 732.1L282.7 733.1L283.7 734.0L284.7 734.9L285.7 735.8L286.7 736.6L287.7 737.4L288.7 738.1L289.7 738.9L290.7 739.6L291.7 740.3L292.7 741.0L293.7 741.6L294.7 742.3L295.7 742.9L296.7 743.4L297.7 743.9L298.7 744.4L299.7 744.8L300.7 745.1L301.7 745.4L302.7 745.6L303.7 745.7L304.7 745.8L305.7 745.9L306.7 745.9L307.7 745.9L308.7 745.9L309.7 745.9L310.7 745.9L311.7 746.0L312.7 746.0L313.7 746.1L314.7 746.3L315.7 746.5L316.7 746.8L317.7 747.0L318.7 747.3L319.7 747.5L320.7 747.8L321.7 748.0L322.7 748.3L323.7 748.6L324.7 748.8L325.7 749.1L326.7 749.3L327.7 749.5L328.7 749.7L329.7 750.0L330.7 750.2L331.7 750.4L332.7 750.5L333.7 750.7L334.7 750.9L335.7 751.1L336.7 751.3L337.7 751.4L338.7 751.6L339.7 751.8L340.7 751.9L341.7 752.1L342.7 752.2L343.7 752.2L344.7 752.2L345.7 752.2L346.7 752.1L347.7 752.0L348.7 752.0L349.7 751.9L350.7 752.0L351.7 752.1L352.7 752.2L353.7 752.4L354.7 752.7L355.7 752.9L356.7 753.2L357.7 753.6L358.7 753.9L359.7 754.3L360.7 754.8L361.7 755.3L362.7 755.8L363.7 756.3L364.7 756.8L365.7 757.3L366.7 757.8L367.7 758.3L368.7 758.8L369.7 759.3L370.7 759.8L371.7 760.3L372.7 760.8L373.7 761.3L374.7 761.8L375.7 762.3L376.7 762.8L377.7 763.3L378.7 763.8L379.7 764.3L380.7 764.8L381.7 765.3L382.7 765.7L383.7 766.2L384.7 766.7L385.7 767.2L386.7 767.7L387.7 768.2L388.7 768.8L389.7 769.3L390.7 769.8L391.7 770.3L392.7 770.7L393.7 771.2L394.7 771.6L395.7 771.9L396.7 772.2L397.7 772.5L398.7 772.7L399.7 772.9L400.7 773.0L401.7 773.1L402.7 773.2L403.7 773.3L404.7 773.3L405.7 773.3L406.7 773.2L407.7 773.1L408.7 773.0L409.7 772.8L410.7 772.6L411.7 772.4L412.7 772.1L413.7 771.8L414.7 771.5L415.7 771.2L416.7 770.9L417.7 770.5L418.7 770.2L419.7 769.8L420.7 769.4L421.7 769.1L422.7 768.7L423.7 768.3L424.7 767.9L425.7 767.5L426.7 767.1L427.7 766.6L428.7 766.1L429.7 765.6L430.7 765.0L431.7 764.3L432.7 763.7L433.7 762.8L434.7 761.8L435.7 760.6L436.7 759.3L437.7 758.0L438.7 756.6L439.7 755.3L440.7 754.1L441.7 752.9L442.7 751.9L443.7 751.0L444.7 750.1L445.7 749.2L446.7 748.3L447.7 747.4L448.7 746.6L449.7 745.8L450.7 745.1L451.7 744.3L452.7 743.6L453.7 743.0L454.7 742.4L455.7 741.8L456.7 741.2L457.7 740.7L458.7 740.3L459.7 739.8L460.7 739.4L461.7 739.0L462.7 738.7L463.7 738.3L464.7 738.1L465.7 737.9L466.7 737.7L467.7 737.6L468.7 737.5L469.7 737.5L470.7 737.5L471.7 737.6L472.7 737.7L473.7 737.9L474.7 738.1L475.7 738.4L476.7 738.7L477.7 739.1L478.7 739.5L479.7 740.0L480.7 740.6L481.7 741.3L482.7 742.0L483.7 742.8L484.7 743.6L485.7 744.4L486.7 745.2L487.7 746.0L488.7 746.8L489.7 747.7L490.7 748.5L491.7 749.4L492.7 750.3L493.7 751.2L494.7 752.1L495.7 753.0L496.7 753.9L497.7 754.8L498.7 755.8L499.7 756.8L500.7 757.8L501.7 758.9L502.7 760.1L503.7 761.2L504.7 762.4L505.7 763.7L506.7 764.9L507.7 766.1L508.7 767.3L509.7 768.5L510.7 769.6L511.7 770.8L512.7 771.9L513.7 773.0L514.7 774.2L515.7 775.2L516.7 776.2L517.7 777.1L518.7 778.0L519.7 778.7L520.7 779.2L521.7 779.7L522.7 780.1L523.7 780.4L524.7 780.7L525.7 780.9L526.7 781.0L527.7 781.1L528.7 781.1L529.7 781.2L530.7 781.2L531.7 781.2L532.7 781.2L533.7 781.2L534.7 781.2L535.7 781.2L536.7 781.3L537.7 781.3L538.7 781.3L539.7 781.3L540.7 781.3L541.7 781.3L542.7 781.3L543.7 781.3L544.7 781.3L545.7 781.2L546.7 781.2L547.7 781.2L548.7 781.1L549.7 781.1L550.7 781.1L551.7 781.0L552.7 780.9L553.7 780.8L554.7 780.7L555.7 780.6L556.7 780.4L557.7 780.3L558.7 780.0L559.7 779.8L560.7 779.5L561.7 779.1L562.7 778.7L563.7 778.2L564.7 777.6L565.7 777.0L566.7 776.4L567.7 775.7L568.7 775.1L569.7 774.4L570.7 773.7L571.7 773.0L572.7 772.2L573.7 771.4L574.7 770.7L575.7 769.9L576.7 769.1L577.7 768.4L578.7 767.7L579.7 767.0L580.7 766.4L581.7 765.8L582.7 765.2L583.7 764.6L584.7 764.0L585.7 763.4L586.7 762.8L587.7 762.2L588.7 761.6L589.7 761.0L590.7 760.4L591.7 759.8L592.7 759.2L593.7 758.6L594.7 758.0L595.7 757.4L596.7 756.8L597.7 756.1L598.7 755.5L599.7 754.9L600.7 754.3L601.7 753.8L602.7 753.3L603.7 752.8L604.7 752.4L605.7 752.1L606.7 751.8L607.7 751.6L608.7 751.5L609.7 751.4L610.7 751.4L611.7 751.4L612.7 751.5L613.7 751.6L614.7 751.7L615.7 751.9L616.7 752.1L617.7 752.3L618.7 752.5L619.7 752.8L620.7 753.1L621.7 753.4L622.7 753.7L623.7 754.1L624.7 754.4L625.7 754.8L626.7 755.1L627.7 755.4L628.7 755.8L629.7 756.1L630.7 756.4L631.7 756.7L632.7 757.0L633.7 757.2L634.7 757.5L635.7 757.7L636.7 757.9L637.7 758.1L638.7 758.4L639.7 758.6L640.7 758.8L641.7 759.0L642.7 759.2L643.7 759.4L644.7 759.5L645.7 759.6L646.7 759.6L647.7 759.6L648.7 759.5L649.7 759.2L650.7 758.9L651.7 758.4L652.7 757.9L653.7 757.4L654.7 756.8L655.7 756.2L656.7 755.6L657.7 755.0L658.7 754.4L659.7 753.8L660.7 753.2L661.7 752.7L662.7 752.1L663.7 751.6L664.7 751.1L665.7 750.5L666.7 750.0L667.7 749.5L668.7 749.1L669.7 748.6L670.7 748.2L671.7 747.9L672.7 747.6L673.7 747.5L674.7 747.5L675.7 747.6L676.7 747.7L677.7 747.9L678.7 748.1L679.7 748.3L680.7 748.6L681.7 748.9L682.7 749.2L683.7 749.6L684.7 749.9L685.7 750.3L686.7 750.7L687.7 751.1L688.7 751.4L689.7 751.7L690.7 752.0L691.7 752.2L692.7 752.5L693.7 752.6L694.7 752.8L695.7 753.0L696.7 753.2L697.7 753.3L698.7 753.5L699.7 753.6L700.7 753.7L701.7 753.9L702.7 753.9L703.7 753.8L704.7 753.6L705.7 753.4L706.7 753.3L707.7 753.2L708.7 753.2L709.7 753.3L710.7 753.6L711.7 754.0L712.7 754.6L713.7 755.2L714.7 755.8L715.7 756.5L716.7 757.2L717.7 757.9L718.7 758.6L719.7 759.4L720.7 760.1L721.7 760.8L722.7 761.5L723.7 762.3L724.7 763.1L725.7 763.9L726.7 764.7L727.7 765.5L728.7 766.2L729.7 766.9L730.7 767.5L731.7 768.0L732.7 768.4L733.7 768.8L734.7 769.0L735.7 769.3L736.7 769.5L737.7 769.6L738.7 769.8L739.7 770.0L740.7 770.3L741.7 770.6L742.7 770.9L743.7 771.2L744.7 771.6L745.7 771.9L746.7 772.2L747.7 772.6L748.7 772.9L749.7 773.3L750.7 773.6L751.7 774.0L752.7 774.5L753.7 775.0L754.7 775.6L755.7 776.2L756.7 776.8L757.7 777.5L758.7 778.1L759.7 778.7L760.7 779.2L761.7 779.7L762.7 780.1L763.7 780.5L764.7 780.8L765.7 781.0L766.7 781.2L767.7 781.3L768.7 781.3L769.7 781.2L770.7 781.1L771.7 780.9L772.7 780.7L773.7 780.4L774.7 780.2L775.7 779.8L776.7 779.5L777.7 779.1L778.7 778.7L779.7 778.3L780.7 777.8L781.7 777.4L782.7 776.9L783.7 776.5L784.7 776.0L785.7 775.6L786.7 775.2L787.7 774.7L788.7 774.3L789.7 773.9L790.7 773.5L791.7 773.1L792.7 772.7L793.7 772.3L794.7 771.9L795.7 771.6L796.7 771.2L797.7 770.8L798.7 770.4L799.7 770.0L800.7 769.6L801.7 769.2L802.7 768.8L803.7 768.4L804.7 768.0L805.7 767.7L806.7 767.5L807.7 767.3L808.7 767.2L809.7 767.1L810.7 767.1L811.7 767.2L812.7 767.3L813.7 767.4L814.7 767.6L815.7 767.8L816.7 767.9L817.7 768.1L818.7 768.2L819.7 768.4L820.7 768.5L821.7 768.7L822.7 768.9L823.7 769.1L824.7 769.2L825.7 769.4L826.7 769.6L827.7 769.7L828.7 769.8L829.7 769.9L830.7 769.9L831.7 769.9L832.7 769.8L833.7 769.6L834.7 769.4L835.7 769.1L836.7 768.7L837.7 768.3L838.7 767.7L839.7 767.2L840.7 766.6L841.7 766.0L842.7 765.5L843.7 764.9L844.7 764.3L845.7 763.8L846.7 763.2L847.7 762.6L848.7 762.0L849.7 761.5L850.7 760.9L851.7 760.3L852.7 759.8L853.7 759.2L854.7 758.7L855.7 758.1L856.7 757.5L857.7 757.0L858.7 756.4L859.7 755.8L860.7 755.3L861.7 754.8L862.7 754.3L863.7 753.8L864.7 753.4L865.7 753.0L866.7 752.7L867.7 752.4L868.7 752.1L869.7 751.9L870.7 751.7L871.7 751.6L872.7 751.4L873.7 751.2L874.7 751.1L875.7 750.9L876.7 750.8L877.7 750.6L878.7 750.4L879.7 750.2L880.7 750.0L881.7 749.8L882.7 749.6L883.7 749.4L884.7 749.1L885.7 748.9L886.7 748.7L887.7 748.5L888.7 748.4L889.7 748.2L890.7 748.1L891.7 748.0L892.7 748.1L893.7 748.2L894.7 748.3L895.7 748.5L896.7 748.8L897.7 749.0L898.7 749.3L899.7 749.5L900.7 749.7L901.7 750.0L902.7 750.2L903.7 750.5L904.7 750.8L905.7 751.2L906.7 751.4L907.7 751.7L908.7 751.9L909.7 752.0L910.7 752.1L911.7 752.1L912.7 752.1L913.7 752.1L914.7 752.0L915.7 751.9L916.7 751.9L917.7 751.8L918.7 751.7L919.7 751.6L920.7 751.5L921.7 751.5L922.7 751.4L923.7 751.3L924.7 751.2L925.7 751.1L926.7 751.0L927.7 750.9L928.7 750.9L929.7 750.8L930.7 750.7L931.7 750.6L932.7 750.5L933.7 750.4L934.7 750.4L935.7 750.4L936.7 750.5L937.7 750.7L938.7 750.9L939.7 751.2L940.7 751.5L941.7 751.8L942.7 752.2L943.7 752.6L944.7 753.0L945.7 753.5L946.7 754.1L947.7 754.7L948.7 755.4L949.7 756.1L950.7 757.0L951.7 757.9L952.7 758.9L953.7 760.0L954.7 761.1L955.7 762.2L956.7 763.3L957.7 764.5L958.7 765.7L959.7 766.9L960.7 768.1L961.7 769.4L962.7 770.6L963.7 771.9L964.7 773.2L965.7 774.5L966.7 775.9L967.7 777.3L968.7 778.6L969.7 780.0L970.7 781.3L971.7 782.6L972.7 783.9L973.7 785.1L974.7 786.3L975.7 787.4L976.7 788.4L977.7 789.2L978.7 789.9L979.7 790.3L980.7 790.6L981.7 790.6L982.7 790.5L983.7 790.4L984.7 790.3L985.7 790.0L986.7 789.8L987.7 789.5L988.7 789.2L989.7 788.9L990.7 788.6L991.7 788.2L992.7 787.8L993.7 787.4L994.7 787.1L995.7 786.7L996.7 786.3L997.7 786.0L998.7 785.8L999.7 785.6L1000.7 785.4L1001.7 785.2L1002.7 785.0L1003.7 784.8L1004.7 784.6L1005.7 784.5L1006.7 784.3L1007.7 784.1L1008.7 784.0L1009.7 783.8L1010.7 783.6L1011.7 783.4L1012.7 783.3L1013.7 783.1L1014.7 782.9L1015.7 782.7L1016.7 782.6L1017.7 782.4L1018.7 782.2L1019.7 782.1L1020.7 781.9L1021.7 781.7L1022.7 781.5L1023.7 781.3L1024.7 781.1L1025.7 780.9L1026.7 780.6L1027.7 780.4L1028.7 780.1L1029.7 779.7L1030.7 779.3L1031.7 778.8L1032.7 778.2L1033.7 777.5L1034.7 776.9L1035.7 776.2L1036.7 775.5L1037.7 774.9L1038.7 774.3L1039.7 773.8L1040.7 773.2L1041.7 772.6L1042.7 772.0L1043.7 771.4L1044.7 770.9L1045.7 770.3L1046.7 769.8L1047.7 769.4L1048.7 769.1L1049.7 768.8L1050.7 768.6L1051.7 768.5L1052.7 768.4L1053.7 768.4L1054.7 768.5L1055.7 768.5L1056.7 768.6L1057.7 768.7L1058.7 768.7L1059.7 768.8L1060.7 768.8L1061.7 768.8L1062.7 768.8L1063.7 768.7L1064.7 768.7L1065.7 768.7L1066.7 768.6L1067.7 768.6L1068.7 768.6L1069.7 768.5L1070.7 768.4L1071.7 768.4L1072.7 768.3L1073.7 768.2L1074.7 768.1L1075.7 768.0L1076.7 767.8L1077.7 767.6L1078.7 767.5L1079.7 767.3L1080.7 767.1L1081.7 766.9L1082.7 766.7L1083.7 766.5L1084.7 766.4L1085.7 766.2L1086.7 766.0L1087.7 765.9L1088.7 765.8L1089.7 765.6L1090.7 765.5L1091.7 765.4L1092.7 765.2L1093.7 765.1L1094.7 765.0L1095.7 764.9L1096.7 764.7L1097.7 764.6L1098.7 764.5" stroke="#f9761c" stroke-width="1.3" fill="none" stroke-linejoin="round"/>
</g>
<text x="15" y="734.6" textLength="395.7" lengthAdjust="spacingAndGlyphs" class="lg">Convergencia/divergencia de la media móvil (MACD) (20, 40, close, 10)</text>
<g clip-path="url(#main)">
<circle cx="1152" cy="698.6" r="11.5" fill="#fff" fill-opacity="0.001" stroke="#f7931a" stroke-width="1.5"/>
<path d="M1149.5 687.4L1145.7 688.8L1148.8 691.0" stroke="#f7931a" stroke-width="1.2" fill="none"/>
<circle cx="1152" cy="698.6" r="8" fill="#f1f3f9"/><circle cx="1152" cy="698.6" r="3.8" fill="#e8506a"/>
<rect x="1156.0" y="685.4" width="9.3" height="13" fill="#fff"/>
<text x="1158.2" y="695.0" font-size="10.6" fill="#1c1f2a" textLength="5.3" lengthAdjust="spacingAndGlyphs">3</text>
<circle cx="1214" cy="698.6" r="11.5" fill="#fff" fill-opacity="0.001" stroke="#fbbe3a" stroke-width="1.5"/>
<path d="M1211.5 687.4L1207.7 688.8L1210.8 691.0" stroke="#fbbe3a" stroke-width="1.2" fill="none"/>
<clipPath id="fl1"><circle cx="1214" cy="699.0" r="8.2"/></clipPath><g clip-path="url(#fl1)"><rect x="1204.8" y="689.4" width="18.4" height="18.4" fill="#fff"/><rect x="1204.8" y="697.4" width="18.4" height="3.6" fill="#e8506a"/><rect x="1204.8" y="703.6" width="18.4" height="4.5" fill="#e8506a"/><rect x="1204.8" y="689.4" width="11.1" height="11.6" fill="#4a80d8"/><rect x="1207.8" y="692.6" width="1.3" height="1.3" fill="#dbe7fb"/><rect x="1207.8" y="695.5" width="1.3" height="1.3" fill="#dbe7fb"/><rect x="1207.8" y="698.4" width="1.3" height="1.3" fill="#dbe7fb"/><rect x="1210.7" y="692.6" width="1.3" height="1.3" fill="#dbe7fb"/><rect x="1210.7" y="695.5" width="1.3" height="1.3" fill="#dbe7fb"/><rect x="1210.7" y="698.4" width="1.3" height="1.3" fill="#dbe7fb"/><rect x="1213.6" y="692.6" width="1.3" height="1.3" fill="#dbe7fb"/><rect x="1213.6" y="695.5" width="1.3" height="1.3" fill="#dbe7fb"/><rect x="1213.6" y="698.4" width="1.3" height="1.3" fill="#dbe7fb"/></g>
<rect x="1218.0" y="685.4" width="9.2" height="13" fill="#fff"/>
<text x="1220.2" y="695.0" font-size="10.6" fill="#1c1f2a" textLength="5.2" lengthAdjust="spacingAndGlyphs">5</text>
<circle cx="1246.8" cy="698.6" r="11.5" fill="#fff" fill-opacity="0.001" stroke="#f7931a" stroke-width="1.5"/>
<path d="M1244.2 687.4L1240.5 688.8L1243.6 691.0" stroke="#f7931a" stroke-width="1.2" fill="none"/>
<clipPath id="fl2"><circle cx="1246.8" cy="699.0" r="8.2"/></clipPath><g clip-path="url(#fl2)"><rect x="1237.6" y="689.4" width="18.4" height="18.4" fill="#fff"/><rect x="1237.6" y="697.4" width="18.4" height="3.6" fill="#e8506a"/><rect x="1237.6" y="703.6" width="18.4" height="4.5" fill="#e8506a"/><rect x="1237.6" y="689.4" width="11.1" height="11.6" fill="#4a80d8"/><rect x="1240.6" y="692.6" width="1.3" height="1.3" fill="#dbe7fb"/><rect x="1240.6" y="695.5" width="1.3" height="1.3" fill="#dbe7fb"/><rect x="1240.6" y="698.4" width="1.3" height="1.3" fill="#dbe7fb"/><rect x="1243.5" y="692.6" width="1.3" height="1.3" fill="#dbe7fb"/><rect x="1243.5" y="695.5" width="1.3" height="1.3" fill="#dbe7fb"/><rect x="1243.5" y="698.4" width="1.3" height="1.3" fill="#dbe7fb"/><rect x="1246.4" y="692.6" width="1.3" height="1.3" fill="#dbe7fb"/><rect x="1246.4" y="695.5" width="1.3" height="1.3" fill="#dbe7fb"/><rect x="1246.4" y="698.4" width="1.3" height="1.3" fill="#dbe7fb"/></g>
<circle cx="1270.8" cy="698.6" r="11.5" fill="#fff" fill-opacity="0.001" stroke="#f7931a" stroke-width="1.5"/>
<path d="M1268.2 687.4L1264.5 688.8L1267.6 691.0" stroke="#f7931a" stroke-width="1.2" fill="none"/>
<clipPath id="fl3"><circle cx="1270.8" cy="699.0" r="8.2"/></clipPath><g clip-path="url(#fl3)"><rect x="1261.6" y="689.4" width="18.4" height="18.4" fill="#fff"/><rect x="1261.6" y="697.4" width="18.4" height="3.6" fill="#e8506a"/><rect x="1261.6" y="703.6" width="18.4" height="4.5" fill="#e8506a"/><rect x="1261.6" y="689.4" width="11.1" height="11.6" fill="#4a80d8"/><rect x="1264.6" y="692.6" width="1.3" height="1.3" fill="#dbe7fb"/><rect x="1264.6" y="695.5" width="1.3" height="1.3" fill="#dbe7fb"/><rect x="1264.6" y="698.4" width="1.3" height="1.3" fill="#dbe7fb"/><rect x="1267.5" y="692.6" width="1.3" height="1.3" fill="#dbe7fb"/><rect x="1267.5" y="695.5" width="1.3" height="1.3" fill="#dbe7fb"/><rect x="1267.5" y="698.4" width="1.3" height="1.3" fill="#dbe7fb"/><rect x="1270.4" y="692.6" width="1.3" height="1.3" fill="#dbe7fb"/><rect x="1270.4" y="695.5" width="1.3" height="1.3" fill="#dbe7fb"/><rect x="1270.4" y="698.4" width="1.3" height="1.3" fill="#dbe7fb"/></g>
<rect x="1248.8" y="685.4" width="13.7" height="13" fill="#fff"/>
<text x="1251.0" y="695.0" font-size="10.6" fill="#1c1f2a" textLength="9.7" lengthAdjust="spacingAndGlyphs">14</text>
<rect x="1274.8" y="685.4" width="9.2" height="13" fill="#fff"/>
<text x="1277.0" y="695.0" font-size="10.6" fill="#1c1f2a" textLength="5.2" lengthAdjust="spacingAndGlyphs">4</text>
<circle cx="1334" cy="698.6" r="11.5" fill="#fff" fill-opacity="0.001" stroke="#f7931a" stroke-width="1.5"/>
<path d="M1331.5 687.4L1327.7 688.8L1330.8 691.0" stroke="#f7931a" stroke-width="1.2" fill="none"/>
<circle cx="1334" cy="698.6" r="8" fill="#f1f3f9"/><circle cx="1334" cy="698.6" r="3.8" fill="#e8506a"/>
<rect x="1339.0" y="685.4" width="9.2" height="13" fill="#fff"/>
<text x="1341.2" y="695.0" font-size="10.6" fill="#1c1f2a" textLength="5.2" lengthAdjust="spacingAndGlyphs">3</text>
<circle cx="1327.2" cy="698.6" r="10.8" fill="#fff"/>
<circle cx="1327.2" cy="698.6" r="11.5" fill="#fff" fill-opacity="0.001" stroke="#f7931a" stroke-width="1.5"/>
<path d="M1324.7 687.4L1320.9 688.8L1324.0 691.0" stroke="#f7931a" stroke-width="1.2" fill="none"/>
<circle cx="1327.2" cy="698.6" r="8" fill="#f1f3f9"/><circle cx="1327.2" cy="698.6" r="3.8" fill="#e8506a"/>
<rect x="1331" y="685.2" width="12.4" height="13" fill="#fff"/>
<text x="1333.6" y="695.0" font-size="10.6" fill="#1c1f2a" textLength="5.2" lengthAdjust="spacingAndGlyphs">2</text>
<circle cx="1384" cy="698.6" r="11.5" fill="#fff" fill-opacity="0.001" stroke="#f7931a" stroke-width="1.5"/>
<path d="M1381.5 687.4L1377.7 688.8L1380.8 691.0" stroke="#f7931a" stroke-width="1.2" fill="none"/>
<circle cx="1384" cy="698.6" r="8" fill="#f1f3f9"/><circle cx="1384" cy="698.6" r="3.8" fill="#e8506a"/>
<circle cx="1471.9" cy="698.6" r="11.5" fill="#fff" fill-opacity="0.001" stroke="#fbbe3a" stroke-width="1.5"/>
<path d="M1469.4 687.4L1465.6 688.8L1468.8 691.0" stroke="#fbbe3a" stroke-width="1.2" fill="none"/>
<clipPath id="fl4"><circle cx="1471.9" cy="699.0" r="8.2"/></clipPath><g clip-path="url(#fl4)"><rect x="1462.7" y="689.4" width="18.4" height="18.4" fill="#fff"/><rect x="1462.7" y="697.4" width="18.4" height="3.6" fill="#e8506a"/><rect x="1462.7" y="703.6" width="18.4" height="4.5" fill="#e8506a"/><rect x="1462.7" y="689.4" width="11.1" height="11.6" fill="#4a80d8"/><rect x="1465.7" y="692.6" width="1.3" height="1.3" fill="#dbe7fb"/><rect x="1465.7" y="695.5" width="1.3" height="1.3" fill="#dbe7fb"/><rect x="1465.7" y="698.4" width="1.3" height="1.3" fill="#dbe7fb"/><rect x="1468.6" y="692.6" width="1.3" height="1.3" fill="#dbe7fb"/><rect x="1468.6" y="695.5" width="1.3" height="1.3" fill="#dbe7fb"/><rect x="1468.6" y="698.4" width="1.3" height="1.3" fill="#dbe7fb"/><rect x="1471.5" y="692.6" width="1.3" height="1.3" fill="#dbe7fb"/><rect x="1471.5" y="695.5" width="1.3" height="1.3" fill="#dbe7fb"/><rect x="1471.5" y="698.4" width="1.3" height="1.3" fill="#dbe7fb"/></g>
<circle cx="1455" cy="698.6" r="11.5" fill="#fff" fill-opacity="0.001" stroke="#f7415b" stroke-width="1.5"/>
<path d="M1452.5 687.4L1448.7 688.8L1451.8 691.0" stroke="#f7415b" stroke-width="1.2" fill="none"/>
<clipPath id="fl5"><circle cx="1455" cy="699.0" r="8.2"/></clipPath><g clip-path="url(#fl5)"><rect x="1445.8" y="689.4" width="18.4" height="18.4" fill="#fff"/><rect x="1445.8" y="697.4" width="18.4" height="3.6" fill="#e8506a"/><rect x="1445.8" y="703.6" width="18.4" height="4.5" fill="#e8506a"/><rect x="1445.8" y="689.4" width="11.1" height="11.6" fill="#4a80d8"/><rect x="1448.8" y="692.6" width="1.3" height="1.3" fill="#dbe7fb"/><rect x="1448.8" y="695.5" width="1.3" height="1.3" fill="#dbe7fb"/><rect x="1448.8" y="698.4" width="1.3" height="1.3" fill="#dbe7fb"/><rect x="1451.7" y="692.6" width="1.3" height="1.3" fill="#dbe7fb"/><rect x="1451.7" y="695.5" width="1.3" height="1.3" fill="#dbe7fb"/><rect x="1451.7" y="698.4" width="1.3" height="1.3" fill="#dbe7fb"/><rect x="1454.6" y="692.6" width="1.3" height="1.3" fill="#dbe7fb"/><rect x="1454.6" y="695.5" width="1.3" height="1.3" fill="#dbe7fb"/><rect x="1454.6" y="698.4" width="1.3" height="1.3" fill="#dbe7fb"/></g>
<rect x="1458.3" y="685.2" width="11.5" height="13" fill="#fff"/>
<text x="1458.6" y="695.0" font-size="10.6" fill="#1c1f2a" textLength="10.5" lengthAdjust="spacingAndGlyphs">33</text>
</g>
<path d="M1480.5 27V860M7 831.5H1544" stroke="#d5d6da" stroke-width="1" fill="none"/>
<g clip-path="url(#axis)">
<text x="1490.8" y="33.5" textLength="41.2" lengthAdjust="spacingAndGlyphs" class="ax">109.900</text>
<text x="1490.8" y="82.5" textLength="41.2" lengthAdjust="spacingAndGlyphs" class="ax">109.800</text>
<text x="1490.8" y="131.5" textLength="41.2" lengthAdjust="spacingAndGlyphs" class="ax">109.700</text>
<text x="1490.8" y="180.5" textLength="41.2" lengthAdjust="spacingAndGlyphs" class="ax">109.600</text>
<text x="1490.8" y="229.5" textLength="41.2" lengthAdjust="spacingAndGlyphs" class="ax">109.500</text>
<text x="1490.8" y="278.5" textLength="41.2" lengthAdjust="spacingAndGlyphs" class="ax">109.400</text>
<text x="1490.8" y="327.5" textLength="41.2" lengthAdjust="spacingAndGlyphs" class="ax">109.300</text>
<text x="1490.8" y="376.5" textLength="41.2" lengthAdjust="spacingAndGlyphs" class="ax">109.200</text>
<text x="1490.8" y="425.5" textLength="41.2" lengthAdjust="spacingAndGlyphs" class="ax">109.100</text>
<text x="1490.8" y="474.5" textLength="41.2" lengthAdjust="spacingAndGlyphs" class="ax">109.000</text>
<text x="1490.8" y="523.5" textLength="41.2" lengthAdjust="spacingAndGlyphs" class="ax">108.900</text>
<text x="1490.8" y="572.5" textLength="41.2" lengthAdjust="spacingAndGlyphs" class="ax">108.800</text>
<text x="1490.8" y="621.5" textLength="41.2" lengthAdjust="spacingAndGlyphs" class="ax">108.700</text>
<text x="1490.8" y="670.5" textLength="41.2" lengthAdjust="spacingAndGlyphs" class="ax">108.600</text>
<text x="1490.4" y="753.5" textLength="29.0" lengthAdjust="spacingAndGlyphs" class="ax">0.000</text>
<text x="1490.4" y="788.5" textLength="34.8" lengthAdjust="spacingAndGlyphs" class="ax">−0.050</text>
<text x="1490.4" y="824.5" textLength="34.8" lengthAdjust="spacingAndGlyphs" class="ax">−0.100</text>
<path d="M1481 29.5h4M1481 78.5h4M1481 127.5h4M1481 176.5h4M1481 225.5h4M1481 274.5h4M1481 323.5h4M1481 372.5h4M1481 421.5h4M1481 470.5h4M1481 519.5h4M1481 568.5h4M1481 617.5h4M1481 666.5h4M1481 749.5h4M1481 784.5h4M1481 820.5h4" stroke="#d5d6da" stroke-width="1" fill="none"/>
<rect x="1498.5" y="35.5" width="27" height="16.8" rx="3.5" fill="#fff" stroke="#d5d6da"/>
<text x="1502.8" y="47.8" font-size="11.8" fill="#2a2e39" textLength="18.5" lengthAdjust="spacingAndGlyphs">JPY</text>
<path d="M1480 353h56.7a2 2 0 0 1 2 2v13a2 2 0 0 1 -2 2h-56.7z" fill="#089981"/>
<text x="1490.9" y="365.9" textLength="40.8" lengthAdjust="spacingAndGlyphs" class="axb">109.222</text>
<path d="M1481 361.5h4" stroke="#fff" stroke-width="1"/>
<path d="M1480 509h56.7a2 2 0 0 1 2 2v28a2 2 0 0 1 -2 2h-56.7z" fill="#ef5350"/>
<text x="1490.9" y="522.3" textLength="40.8" lengthAdjust="spacingAndGlyphs" class="axb">108.903</text>
<text x="1491" y="535.8" font-size="12.2" font-weight="bold" fill="#fff" fill-opacity="0.75" textLength="28.5" lengthAdjust="spacingAndGlyphs">07:07</text>
<path d="M1481 517.7h4" stroke="#fff" stroke-width="1"/>
<path d="M1480 541.5h56.7a2 2 0 0 1 2 2v12.299999999999955a2 2 0 0 1 -2 2h-56.7z" fill="#787b86"/>
<text x="1490.9" y="554.05" textLength="40.8" lengthAdjust="spacingAndGlyphs" class="axb">108.901</text>
<path d="M1481 549.6h4" stroke="#fff" stroke-width="1"/>
<path d="M1480 558.5h56.7a2 2 0 0 1 2 2v12.799999999999955a2 2 0 0 1 -2 2h-56.7z" fill="#2196f3"/>
<text x="1490.9" y="571.3" textLength="40.8" lengthAdjust="spacingAndGlyphs" class="axb">108.901</text>
<path d="M1481 566.9h4" stroke="#fff" stroke-width="1"/>
<path d="M1480 575.8h56.7a2 2 0 0 1 2 2v12.700000000000045a2 2 0 0 1 -2 2h-56.7z" fill="#ef5350"/>
<text x="1490.9" y="588.55" textLength="40.8" lengthAdjust="spacingAndGlyphs" class="axb">108.892</text>
<path d="M1481 584.1h4" stroke="#fff" stroke-width="1"/>
<path d="M1480 632.5h56.7a2 2 0 0 1 2 2v13.200000000000045a2 2 0 0 1 -2 2h-56.7z" fill="#f23a33"/>
<text x="1490.9" y="645.5" textLength="40.8" lengthAdjust="spacingAndGlyphs" class="axb">108.652</text>
<path d="M1481 641.1h4" stroke="#fff" stroke-width="1"/>
</g>
<text class="tm" x="17.6" y="849.9" textLength="11.8" lengthAdjust="spacingAndGlyphs">12</text>
<text class="tm" x="122.4" y="849.9" textLength="29.0" lengthAdjust="spacingAndGlyphs">12:00</text>
<text class="tm" x="244.4" y="849.9" textLength="11.8" lengthAdjust="spacingAndGlyphs">13</text>
<text class="tm" x="349.3" y="849.9" textLength="29.0" lengthAdjust="spacingAndGlyphs">12:00</text>
<text class="tm" x="471.3" y="849.9" textLength="11.8" lengthAdjust="spacingAndGlyphs">14</text>
<text class="tm" x="576.1" y="849.9" textLength="29.0" lengthAdjust="spacingAndGlyphs">12:00</text>
<text class="tm" x="697.7" y="849.9" textLength="12.6" lengthAdjust="spacingAndGlyphs" font-weight="bold">17</text>
<text class="tm" x="802.9" y="849.9" textLength="29.0" lengthAdjust="spacingAndGlyphs">12:00</text>
<text class="tm" x="925.0" y="849.9" textLength="11.8" lengthAdjust="spacingAndGlyphs">18</text>
<text class="tm" x="1029.8" y="849.9" textLength="29.0" lengthAdjust="spacingAndGlyphs">12:00</text>
<text class="tm" x="1151.8" y="849.9" textLength="11.8" lengthAdjust="spacingAndGlyphs">19</text>
<text class="tm" x="1256.6" y="849.9" textLength="29.0" lengthAdjust="spacingAndGlyphs">12:00</text>
<text class="tm" x="1378.6" y="849.9" textLength="11.8" lengthAdjust="spacingAndGlyphs">20</text>
<rect x="6.5" y="26.5" width="1538" height="834" fill="none" stroke="#000" stroke-width="1.15"/>
</svg></body></html>
